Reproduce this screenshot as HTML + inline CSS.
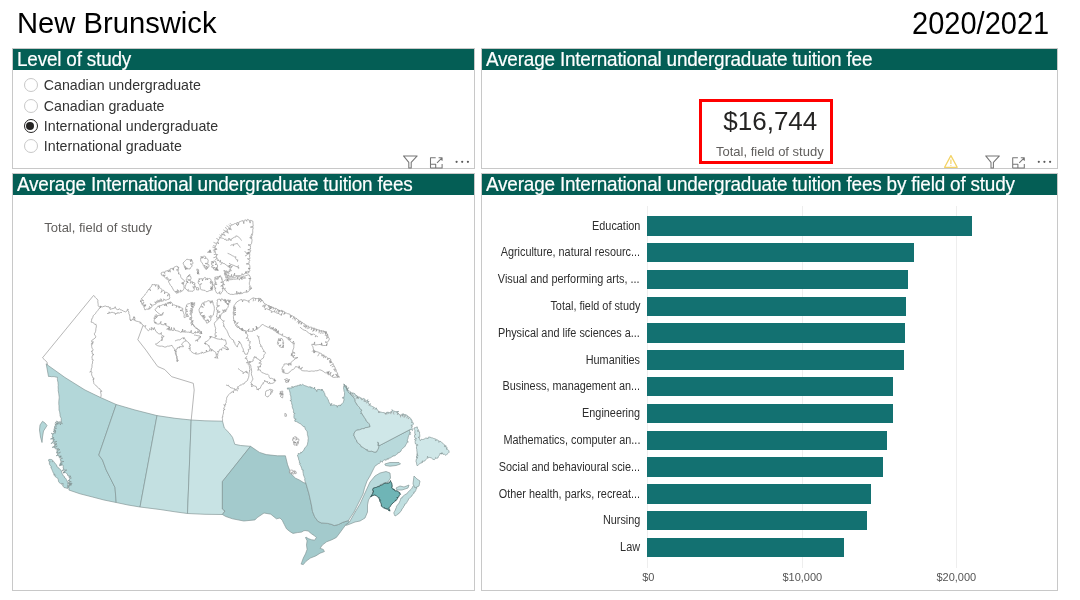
<!DOCTYPE html>
<html><head><meta charset="utf-8">
<style>
*{margin:0;padding:0;box-sizing:border-box}
html,body{width:1080px;height:600px;overflow:hidden;background:#fff}
#root{position:absolute;left:0;top:0;width:1080px;height:600px;will-change:transform}
body{position:relative;-webkit-font-smoothing:antialiased;font-family:"Liberation Sans",Arial,sans-serif;color:#252423}
.abs{position:absolute;white-space:nowrap}
.panel{position:absolute;border:1px solid #c8c8c8;background:#fff}
.hdr{position:absolute;left:0;top:0;right:0;height:21px;background:#045e55;color:#fff;font-size:20.5px;letter-spacing:-0.216px;line-height:21px;padding-left:3.6px;white-space:nowrap;overflow:hidden}
.hdr span{display:inline-block;position:relative;top:-0.6px;transform:scaleX(0.924);transform-origin:0 50%;-webkit-text-stroke:0.2px #fff}
.radio{position:absolute;left:23.5px;width:14px;height:14px;border-radius:50%;border:1px solid #c8c8c8;background:#fff}
.radio.sel{border:1.5px solid #252423}
.radio.sel:after{content:"";position:absolute;left:1.5px;top:1.5px;width:8px;height:8px;border-radius:50%;background:#252423}
.rl{position:absolute;left:43.8px;font-size:14.2px;line-height:14px;color:#333}
.lbl{position:absolute;right:440px;font-size:12px;line-height:11px;transform:scaleX(0.905);transform-origin:100% 50%;color:#2e2e2e;text-align:right;white-space:nowrap}
.bar{position:absolute;left:647.2px;height:19.4px;background:#137171}
.ax{position:absolute;font-size:11px;line-height:11px;color:#555;white-space:nowrap}
.grid{position:absolute;top:205.5px;width:1px;height:362px;background:#eeeeee}
</style></head><body><div id="root">

<div class="abs" style="left:17px;top:8.3px;font-size:30.2px;line-height:30.2px;color:#000;transform:scaleX(0.967);transform-origin:0 50%">New Brunswick</div>
<div class="abs" style="right:31px;top:8.2px;font-size:30.5px;line-height:30.5px;color:#000;transform:scaleX(0.951);transform-origin:100% 50%">2020/2021</div>

<!-- top-left: level of study -->
<div class="panel" style="left:12px;top:48px;width:463px;height:121px">
  <div class="hdr"><span>Level of study</span></div>
</div>
<div class="radio" style="top:78px"></div>
<div class="rl" style="top:78px">Canadian undergraduate</div>
<div class="radio" style="top:98.5px"></div>
<div class="rl" style="top:98.5px">Canadian graduate</div>
<div class="radio sel" style="top:119px"></div>
<div class="rl" style="top:119px">International undergraduate</div>
<div class="radio" style="top:139.3px"></div>
<div class="rl" style="top:139.3px">International graduate</div>

<!-- top-right KPI -->
<div class="panel" style="left:481px;top:48px;width:577px;height:121px">
  <div class="hdr"><span>Average International undergraduate tuition fee</span></div>
</div>
<div class="abs" style="left:699px;top:99px;width:134px;height:65px;border:3px solid #ff0000"></div>
<div class="abs" style="left:723.3px;top:108px;font-size:26px;line-height:26px;color:#252423">$16,744</div>
<div class="abs" style="left:716px;top:144.5px;font-size:13px;line-height:13px;color:#605e5c">Total, field of study</div>

<!-- bottom-left map -->
<div class="panel" style="left:12px;top:173px;width:463px;height:418px">
  <div class="hdr"><span>Average International undergraduate tuition fees</span></div>
</div>
<div class="abs" style="left:44.3px;top:221px;font-size:13px;line-height:13px;color:#605e5c">Total, field of study</div>

<!-- bottom-right bar chart -->
<div class="panel" style="left:481px;top:173px;width:577px;height:418px">
  <div class="hdr"><span>Average International undergraduate tuition fees by field of study</span></div>
</div>

<svg class="abs" style="left:0;top:150px" width="1080" height="22" viewBox="0 150 1080 22">
 <g id="ic1" fill="none" stroke="#767676" stroke-width="1.05" stroke-linejoin="round">
  <path d="M403.5,155.9 L417.2,155.9 L411.2,162.4 L411.2,168 L408.8,168 L408.8,162.4 Z"/>
  <path d="M430.5,168 V157.8 H435.7 M442.1,164 V168 H430.5 M430.5,164.3 H435.7 V168 M437,162.9 L442,157.9 M438.6,157.8 H442.1 V160.8"/>
 </g>
 <g fill="#5a5a5a">
  <circle cx="456.6" cy="161.8" r="1.1"/><circle cx="462.2" cy="161.8" r="1.1"/><circle cx="467.9" cy="161.8" r="1.1"/>
 </g>
 <g transform="translate(582.2,0)">
 <g fill="none" stroke="#767676" stroke-width="1.05" stroke-linejoin="round">
  <path d="M403.5,155.9 L417.2,155.9 L411.2,162.4 L411.2,168 L408.8,168 L408.8,162.4 Z"/>
  <path d="M430.5,168 V157.8 H435.7 M442.1,164 V168 H430.5 M430.5,164.3 H435.7 V168 M437,162.9 L442,157.9 M438.6,157.8 H442.1 V160.8"/>
 </g>
 <g fill="#5a5a5a">
  <circle cx="456.6" cy="161.8" r="1.1"/><circle cx="462.2" cy="161.8" r="1.1"/><circle cx="467.9" cy="161.8" r="1.1"/>
 </g>
 </g>
 <g fill="none" stroke="#f3d366" stroke-width="1.3" stroke-linejoin="round">
  <path d="M950.9,155.6 L957.2,167.3 L944.6,167.3 Z"/>
  <path d="M950.9,159.6 V164" stroke-width="1.2"/>
 </g>
 <circle cx="950.9" cy="165.5" r="0.6" fill="#f3d366"/>
</svg>

<svg class="abs" style="left:0;top:0" width="1080" height="600" viewBox="0 0 1080 600">
<g stroke="#7f9192" stroke-width="0.65" stroke-linejoin="round">
<path fill="#b3d7d9" d="M46.2,363.8 L47.5,365.0 L65.0,377.5 L85.0,390.0 L100.5,397.5 L116.2,404.5 L98.8,455.0 L102.5,460.0 L106.2,470.0 L110.0,477.5 L115.0,487.5 L116.2,502.5 L104.0,500.0 L92.5,497.0 L80.0,493.8 L68.8,490.0 L68.8,490.0 L69.2,489.0 L69.0,487.9 L66.8,487.2 L69.3,486.9 L69.0,486.9 L67.1,485.3 L69.2,485.8 L68.8,485.8 L71.5,484.9 L69.0,484.7 L69.2,485.2 L72.2,483.5 L68.9,484.1 L68.9,484.2 L71.2,483.8 L68.6,483.2 L69.6,483.0 L67.8,483.4 L69.3,481.9 L69.2,482.0 L71.4,481.9 L69.0,480.9 L69.6,480.9 L67.9,481.0 L69.3,479.8 L69.4,479.8 L69.5,478.8 L71.4,478.0 L69.2,477.7 L69.4,477.7 L68.7,476.8 L71.0,476.3 L68.4,475.8 L68.0,475.9 L67.5,475.0 L67.4,473.9 L66.3,473.3 L65.5,472.6 L63.1,472.7 L65.0,471.6 L65.2,471.6 L63.1,473.1 L64.7,470.6 L64.6,470.8 L66.9,470.1 L64.1,469.8 L64.1,469.9 L62.0,471.0 L63.6,468.9 L64.0,468.8 L63.0,468.1 L63.3,466.9 L63.2,465.8 L62.7,464.9 L59.3,465.7 L62.3,463.9 L62.1,464.0 L59.8,464.7 L61.7,463.0 L61.5,463.1 L59.7,464.4 L61.1,462.1 L60.9,462.2 L63.9,461.5 L60.5,461.2 L61.1,461.0 L60.4,460.1 L60.3,459.0 L62.5,458.3 L59.9,457.9 L59.6,458.1 L60.9,456.1 L59.2,457.1 L58.9,457.2 L61.4,456.2 L58.5,456.2 L58.5,456.2 L58.4,455.2 L56.2,455.8 L57.9,454.2 L57.7,454.3 L60.5,452.2 L57.2,453.3 L58.0,452.9 L56.2,452.8 L57.6,451.9 L57.1,452.1 L56.9,451.0 L60.0,449.5 L56.5,450.0 L56.7,449.9 L58.6,448.6 L56.2,448.9 L55.9,449.0 L54.9,448.3 L57.3,445.9 L54.4,447.3 L55.1,447.0 L52.2,447.4 L54.8,445.9 L54.5,446.1 L56.6,444.3 L54.2,445.0 L54.9,444.9 L56.8,443.6 L54.6,443.8 L54.1,444.0 L53.8,443.0 L56.8,441.4 L53.5,442.0 L53.6,442.0 L51.1,443.7 L53.4,441.0 L53.0,441.1 L54.7,439.6 L52.8,440.1 L53.2,440.0 L53.6,438.9 L50.5,439.0 L53.3,437.8 L52.5,438.1 L54.1,437.9 L52.2,437.0 L52.0,436.9 L52.6,436.0 L52.7,434.9 L51.4,433.2 L53.0,433.9 L53.5,434.1 L53.6,433.0 L55.8,432.9 L53.9,432.0 L53.7,432.0 L53.5,430.9 L55.9,431.7 L53.7,429.8 L53.8,429.9 L55.9,431.1 L54.0,428.8 L54.0,428.9 L56.5,428.4 L54.3,427.8 L54.9,428.0 L54.5,426.6 L55.0,425.6 L56.3,426.7 L55.7,424.8 L56.1,425.1 L54.8,424.0 L56.8,424.3 L57.1,424.7 L55.3,422.2 L57.9,423.9 L58.1,424.2 L56.6,423.0 L58.9,423.4 L58.5,423.1 L56.3,421.2 L59.2,422.3 L59.1,422.2 L60.6,425.0 L59.8,421.4 L60.3,421.9 L62.3,424.1 L61.0,421.1 L61.2,421.4 L61.2,420.0 L61.2,420.0 L61.3,418.5 L60.6,417.1 L60.1,415.8 L60.0,414.3 L59.8,412.8 L59.5,411.4 L59.0,410.0 L59.0,408.6 L59.0,407.2 L59.0,405.8 L58.8,404.5 L58.8,403.1 L58.8,401.7 L58.9,400.3 L59.1,398.9 L59.2,397.5 L59.1,396.2 L58.9,394.8 L58.7,393.4 L58.5,392.0 L58.2,390.7 L58.3,389.3 L58.2,387.9 L58.1,386.6 L58.3,385.2 L58.1,383.8 L58.0,382.4 L57.7,381.1 L57.4,379.8 L57.4,378.4 L57.5,377.3 L56.0,377.1 L54.5,376.7 L53.0,376.6 L51.5,376.7 L50.0,376.4 L48.5,376.5 Z"/>
<path fill="#b3d7d9" d="M48.8,459.5 L50.1,459.4 L51.5,459.5 L52.7,460.3 L52.2,461.8 L53.4,461.2 L53.7,461.4 L54.5,462.6 L55.3,463.8 L56.4,464.7 L56.8,466.0 L57.4,467.2 L58.7,467.8 L59.4,469.0 L60.6,469.7 L61.3,470.8 L61.7,472.3 L62.2,473.7 L62.9,474.9 L63.5,476.2 L64.9,477.0 L64.3,477.5 L65.4,478.0 L65.6,478.3 L66.4,479.6 L67.1,480.9 L67.6,482.3 L67.8,483.8 L68.1,484.8 L67.5,486.1 L67.7,487.6 L67.7,488.5 L65.9,487.9 L64.0,487.5 L63.2,486.4 L63.5,485.8 L62.5,485.5 L62.7,485.0 L63.4,483.7 L62.1,484.1 L61.5,484.3 L62.4,483.5 L60.8,483.4 L60.3,483.5 L59.2,482.5 L58.5,481.4 L58.3,479.8 L57.8,478.3 L56.4,477.5 L55.2,476.6 L55.8,475.8 L54.6,475.7 L54.3,475.5 L55.0,474.1 L53.7,474.7 L54.1,474.0 L53.3,472.9 L52.8,471.7 L52.3,470.5 L51.8,469.3 L51.2,468.1 L50.8,466.9 L51.5,466.7 L50.5,465.9 L50.3,465.5 L49.4,464.1 L49.3,462.5 L50.3,461.9 L49.1,461.5 L48.6,461.1 L48.8,459.5 Z"/>
<path fill="#b3d7d9" d="M42.5,421.3 L45.0,423.0 L47.0,425.5 L45.5,428.0 L43.5,431.0 L42.5,437.0 L42.0,442.5 L40.5,437.0 L39.5,430.0 L40.0,425.0 Z"/>
<path fill="#b7d9db" d="M116.2,404.5 L135.0,410.0 L157.0,415.6 L140.0,507.0 L140.0,507.0 L128.0,505.0 L116.2,502.5 L115.0,487.5 L110.0,477.5 L106.2,470.0 L102.5,460.0 L98.8,455.0 Z"/>
<path fill="#c3e0e1" d="M157.0,415.6 L175.0,418.3 L191.2,420.0 L190.0,452.5 L187.5,513.5 L187.5,513.5 L175.0,511.8 L160.0,509.5 L140.0,507.0 Z"/>
<path fill="#c8e3e4" d="M191.2,420.0 L205.0,420.8 L222.5,421.2 L224.3,428.0 L229.0,432.7 L232.5,437.3 L234.8,444.3 L240.7,445.5 L250.5,446.3 L222.4,481.6 L222.4,509.0 L225.0,511.0 L222.4,514.5 L205.0,514.3 L187.5,513.5 Z"/>
<path fill="#a3cacc" d="M250.5,446.3 L259.5,452.4 L266.2,454.6 L277.5,455.8 L285.4,455.8 L287.6,464.8 L291.0,473.8 L295.5,478.2 L299.4,480.0 L303.9,482.8 L305.8,483.0 L309.0,494.0 L311.4,505.0 L312.5,511.5 L314.7,516.9 L317.9,521.3 L321.2,522.9 L327.7,523.4 L332.0,524.5 L334.2,525.6 L338.5,524.5 L342.8,522.3 L346.1,521.3 L348.5,520.5 L349.3,522.3 L345.6,525.0 L342.8,528.8 L339.6,533.2 L336.3,537.5 L332.0,539.7 L326.6,541.8 L322.3,545.1 L320.1,548.3 L323.3,549.4 L324.4,551.6 L320.1,553.2 L315.8,555.9 L310.3,558.1 L306.0,561.3 L303.3,564.6 L301.1,564.1 L301.7,562.4 L303.3,558.1 L305.5,553.8 L307.1,549.4 L306.5,545.1 L307.1,540.8 L305.5,537.5 L306.0,537.0 L308.2,538.6 L311.4,539.7 L314.7,540.2 L316.3,537.5 L314.7,535.9 L311.4,533.7 L308.2,531.0 L305.0,530.5 L303.3,531.0 L301.7,532.1 L297.3,532.6 L293.0,533.4 L289.8,531.5 L286.5,528.8 L284.3,524.5 L282.2,520.2 L280.0,518.0 L276.4,518.8 L270.8,514.2 L264.0,513.0 L257.2,517.6 L255.0,519.9 L243.8,521.0 L232.5,518.8 L225.8,516.5 L222.4,514.5 L225.0,511.0 L222.4,509.0 L222.4,481.6 Z"/>
<path fill="#b8d9db" d="M287.5,388.0 L289.1,388.0 L290.6,388.0 L292.2,387.9 L291.9,386.2 L293.2,387.7 L293.5,386.8 L295.0,386.4 L296.2,385.9 L297.1,386.5 L297.3,385.6 L297.4,385.4 L298.8,385.4 L300.1,385.3 L299.9,384.5 L301.2,385.0 L301.4,385.2 L302.5,384.3 L303.6,385.0 L304.8,385.7 L306.1,386.0 L307.3,386.5 L308.5,387.0 L309.8,386.8 L311.3,387.0 L310.9,388.1 L312.2,387.5 L312.4,387.7 L313.5,388.5 L314.7,387.1 L314.5,389.0 L314.8,388.9 L316.0,389.7 L316.8,391.6 L317.1,389.7 L317.5,389.5 L319.0,389.4 L320.5,389.8 L322.0,389.9 L322.8,389.7 L321.1,389.8 L323.1,390.7 L323.6,391.1 L324.1,392.5 L324.9,393.9 L324.9,395.6 L326.1,396.4 L327.0,397.4 L327.5,398.7 L328.3,399.9 L328.7,401.4 L329.4,402.9 L330.3,404.3 L332.0,403.5 L330.7,405.3 L330.2,405.2 L332.1,405.2 L334.1,404.8 L335.4,405.4 L336.7,405.5 L337.3,407.3 L337.8,405.6 L338.1,405.4 L339.5,405.7 L340.0,404.8 L340.5,405.8 L340.4,405.8 L341.0,404.6 L342.2,403.7 L343.1,402.7 L343.5,401.4 L344.0,400.0 L344.0,398.5 L342.2,397.8 L344.1,397.4 L343.8,397.0 L344.4,395.5 L344.5,394.0 L344.6,392.5 L344.0,391.2 L343.9,389.8 L343.5,388.5 L343.7,387.1 L344.0,385.7 L343.8,384.3 L343.8,384.3 L345.0,385.2 L345.8,386.3 L346.7,386.1 L346.4,387.2 L346.0,387.9 L346.7,387.7 L346.6,388.8 L347.0,388.8 L347.3,390.3 L347.9,391.5 L349.0,392.5 L350.1,393.7 L351.0,395.0 L352.5,395.8 L353.4,397.0 L354.3,398.4 L355.1,399.8 L355.2,401.5 L355.9,402.9 L356.8,404.1 L357.4,405.4 L358.5,406.4 L359.5,407.5 L360.2,408.7 L361.0,409.8 L362.0,410.1 L361.4,410.8 L361.1,411.2 L361.4,412.5 L360.8,413.4 L361.8,413.6 L362.2,413.7 L362.6,415.0 L363.6,416.0 L364.2,417.5 L365.3,418.5 L365.9,419.9 L366.5,421.3 L367.8,422.3 L368.9,423.4 L369.6,424.8 L370.1,426.7 L368.6,427.2 L367.0,427.5 L365.4,427.7 L364.0,428.7 L362.5,428.6 L361.0,429.2 L359.6,429.8 L358.1,430.0 L356.8,430.2 L355.2,431.4 L354.2,433.0 L354.0,434.6 L353.6,435.3 L354.2,435.6 L354.2,436.0 L355.0,437.5 L355.3,438.8 L356.3,439.7 L356.8,441.1 L357.3,442.5 L358.4,443.3 L359.6,444.1 L360.5,445.1 L361.0,446.5 L362.4,447.1 L363.7,447.9 L364.9,448.8 L366.2,449.6 L367.4,449.5 L367.1,450.2 L367.0,450.5 L368.5,451.0 L370.0,451.4 L371.5,451.1 L373.0,451.7 L374.5,452.1 L376.4,452.0 L377.1,450.7 L377.8,449.4 L378.6,448.0 L378.7,446.4 L377.9,445.0 L378.1,443.4 L377.7,441.9 L378.4,443.1 L378.6,444.5 L377.9,445.3 L379.0,445.5 L379.0,445.8 L410.5,429.3 L410.5,429.3 L409.7,430.5 L409.7,431.9 L410.8,433.1 L409.4,432.9 L409.5,433.2 L410.5,434.4 L409.2,434.3 L409.1,434.5 L408.6,435.8 L408.2,437.1 L408.0,438.5 L407.4,439.7 L407.2,441.1 L408.4,441.9 L406.9,442.1 L407.1,442.5 L406.5,443.7 L405.8,444.8 L405.2,446.0 L404.4,447.1 L403.2,447.8 L402.4,448.8 L401.4,449.7 L401.0,451.1 L400.0,452.0 L398.8,452.7 L398.1,452.4 L397.8,453.4 L397.7,453.7 L396.4,454.5 L395.4,455.4 L394.0,456.0 L393.2,455.7 L393.0,456.5 L392.5,456.4 L391.3,457.3 L390.0,458.1 L388.6,458.2 L388.0,459.5 L387.6,458.6 L387.5,459.1 L386.2,459.3 L385.8,460.5 L385.2,459.7 L384.9,459.7 L383.7,460.3 L382.5,461.0 L382.4,462.2 L381.6,461.6 L381.2,461.4 L380.5,460.9 L380.3,462.1 L380.4,462.5 L379.4,463.4 L378.0,463.8 L377.1,464.7 L376.0,465.4 L374.9,466.2 L374.3,467.5 L373.7,468.7 L373.0,470.0 L370.0,476.0 L367.0,481.0 L364.5,488.0 L363.0,494.0 L360.0,500.0 L357.0,506.0 L354.0,512.0 L350.0,518.0 L348.5,520.5 L346.1,521.3 L342.8,522.3 L338.5,524.5 L334.2,525.6 L332.0,524.5 L327.7,523.4 L321.2,522.9 L317.9,521.3 L314.7,516.9 L312.5,511.5 L311.4,505.0 L309.0,494.0 L305.8,483.0 L305.8,483.0 L305.2,481.6 L304.8,480.2 L304.7,478.7 L305.2,478.1 L304.5,477.6 L304.3,477.4 L304.0,476.1 L303.4,475.0 L303.3,473.6 L303.0,472.4 L302.9,471.0 L303.3,470.0 L302.5,470.0 L302.0,469.9 L301.7,468.4 L301.2,466.9 L300.5,465.5 L299.6,464.2 L300.4,463.4 L299.2,463.1 L299.4,462.6 L299.4,461.0 L298.6,459.6 L298.5,458.1 L297.9,456.7 L297.4,455.1 L298.5,454.3 L298.2,453.5 L299.3,453.5 L299.6,453.7 L300.8,453.2 L300.7,452.2 L301.8,452.6 L301.8,452.3 L302.7,451.2 L303.7,450.5 L304.2,449.1 L305.0,447.8 L306.0,446.7 L306.9,445.5 L307.5,444.2 L307.7,442.8 L308.0,441.4 L308.0,440.0 L308.3,438.7 L308.1,437.3 L307.9,436.0 L307.4,434.6 L307.4,433.3 L307.2,431.7 L306.3,430.4 L305.3,429.2 L304.9,427.7 L304.7,426.6 L304.0,427.0 L303.7,426.9 L302.7,425.9 L301.7,424.8 L300.6,423.9 L299.3,423.3 L297.9,422.4 L296.4,421.6 L294.9,421.3 L294.8,419.9 L296.2,419.2 L294.7,418.8 L294.3,418.6 L293.9,417.2 L294.0,415.8 L294.0,414.4 L295.0,413.4 L293.9,413.3 L293.7,413.0 L293.4,411.8 L293.5,410.4 L293.1,409.1 L292.5,407.9 L292.2,406.6 L292.3,405.2 L291.7,404.0 L291.6,402.6 L291.4,401.3 L289.9,400.5 L291.2,400.2 L291.3,399.9 L290.9,398.7 L290.9,397.3 L290.8,395.9 L290.2,394.7 L290.2,393.3 L289.9,392.0 L289.5,390.7 L289.0,389.5 L288.2,388.5 L287.7,389.3 L287.2,388.1 L287.5,388.0 Z"/>
<path fill="#b8d9db" d="M349.3,522.3 L354.0,514.0 L360.0,504.0 L365.0,493.0 L370.0,482.0 L375.0,476.0 L380.0,473.0 L386.0,471.5 L390.0,473.0 L390.5,478.0 L388.0,482.0 L384.0,483.0 L380.0,485.0 L376.0,488.0 L373.5,488.0 L372.8,489.5 L372.8,493.2 L370.5,496.7 L368.5,500.0 L367.5,505.0 L367.5,512.0 L365.0,518.0 L360.0,521.0 L355.0,522.0 L350.0,524.0 L346.5,525.3 L345.6,525.0 Z"/>
<path fill="#cfe7e8" d="M343.8,384.3 L344.8,385.2 L344.1,386.5 L345.5,386.1 L345.5,386.4 L345.9,387.7 L346.7,388.8 L348.6,387.7 L347.4,389.6 L348.0,389.4 L346.8,390.2 L348.7,390.3 L348.8,390.5 L349.7,391.4 L350.8,392.0 L350.4,393.9 L351.7,392.6 L352.2,392.6 L352.1,394.1 L353.1,393.1 L353.5,393.1 L354.9,393.7 L355.6,395.3 L357.1,395.7 L357.4,398.2 L358.0,396.3 L358.0,397.0 L357.6,398.1 L359.0,397.4 L359.4,397.1 L360.6,397.7 L361.8,398.4 L361.6,399.8 L362.8,398.8 L363.2,398.5 L364.5,398.8 L365.4,400.1 L364.2,401.4 L366.2,400.9 L366.4,401.1 L367.8,399.6 L367.2,401.9 L367.3,402.2 L369.1,401.1 L368.1,402.9 L368.3,403.2 L369.1,404.4 L370.4,403.6 L369.9,405.2 L369.8,405.7 L371.5,406.0 L372.8,406.7 L374.2,407.4 L375.4,408.3 L376.6,408.0 L376.3,409.0 L376.8,408.9 L377.6,410.4 L378.7,411.1 L379.0,412.8 L379.7,411.6 L379.8,412.1 L381.2,412.2 L382.5,412.5 L383.9,412.6 L384.9,413.0 L386.0,413.9 L385.9,412.7 L386.3,412.4 L387.3,413.1 L387.4,412.1 L387.9,412.2 L389.5,412.6 L391.0,411.7 L392.4,411.2 L392.0,409.6 L393.5,411.1 L394.0,411.2 L395.5,411.5 L396.6,411.6 L398.7,411.4 L397.3,412.5 L397.8,412.7 L397.5,414.2 L398.5,413.6 L398.6,414.1 L400.0,414.9 L401.5,415.4 L402.1,413.9 L402.6,415.4 L403.0,415.1 L403.1,413.5 L404.1,415.1 L404.5,414.5 L406.1,414.8 L407.2,415.6 L408.3,416.4 L409.2,417.5 L410.3,418.1 L411.4,419.0 L410.7,419.8 L411.9,420.0 L411.9,420.3 L412.3,421.6 L411.2,422.2 L412.8,422.6 L413.2,422.7 L413.4,424.0 L412.5,425.3 L410.9,425.0 L412.2,426.4 L412.3,426.9 L411.4,426.9 L412.0,428.0 L412.2,428.8 L412.5,430.5 L411.2,429.4 L410.5,429.3 L410.5,429.3 L379.0,445.8 L379.0,445.5 L377.9,445.3 L378.6,444.5 L378.4,443.1 L377.7,441.9 L378.1,443.4 L377.9,445.0 L378.7,446.4 L378.6,448.0 L377.8,449.4 L377.1,450.7 L376.4,452.0 L374.5,452.1 L373.0,451.7 L371.5,451.1 L370.0,451.4 L368.5,451.0 L367.0,450.5 L367.1,450.2 L367.4,449.5 L366.2,449.6 L364.9,448.8 L363.7,447.9 L362.4,447.1 L361.0,446.5 L360.5,445.1 L359.6,444.1 L358.4,443.3 L357.3,442.5 L356.8,441.1 L356.3,439.7 L355.3,438.8 L355.0,437.5 L354.2,436.0 L354.2,435.6 L353.6,435.3 L354.0,434.6 L354.2,433.0 L355.2,431.4 L356.8,430.2 L358.1,430.0 L359.6,429.8 L361.0,429.2 L362.5,428.6 L364.0,428.7 L365.4,427.7 L367.0,427.5 L368.6,427.2 L370.1,426.7 L369.6,424.8 L368.9,423.4 L367.8,422.3 L366.5,421.3 L365.9,419.9 L365.3,418.5 L364.2,417.5 L363.6,416.0 L362.6,415.0 L362.2,413.7 L361.8,413.6 L360.8,413.4 L361.4,412.5 L361.1,411.2 L361.4,410.8 L362.0,410.1 L361.0,409.8 L360.2,408.7 L359.5,407.5 L358.5,406.4 L357.4,405.4 L356.8,404.1 L355.9,402.9 L355.2,401.5 L355.1,399.8 L354.3,398.4 L353.4,397.0 L352.5,395.8 L351.0,395.0 L350.1,393.7 L349.0,392.5 L347.9,391.5 L347.3,390.3 L347.0,388.8 L346.6,388.8 L346.7,387.7 L346.0,387.9 L346.4,387.2 L346.7,386.1 L345.8,386.3 L345.0,385.2 L343.8,384.3 Z"/>
<path fill="#cfe7e8" d="M414.0,428.0 L415.5,427.5 L417.3,426.9 L417.4,428.3 L418.2,429.4 L418.8,430.6 L417.1,430.9 L419.2,431.6 L419.6,431.9 L419.5,433.3 L419.7,434.6 L419.8,436.0 L419.7,437.3 L418.1,437.2 L419.8,438.4 L419.4,438.7 L420.0,439.8 L420.3,440.7 L421.0,439.6 L421.3,439.4 L422.7,439.5 L424.1,439.2 L425.4,438.2 L427.0,438.1 L427.9,439.0 L428.1,437.8 L428.4,437.1 L430.0,437.1 L431.2,437.7 L432.5,437.9 L433.7,438.5 L435.1,438.9 L436.3,439.3 L435.4,440.6 L437.3,439.8 L437.4,440.1 L438.7,440.7 L438.9,442.4 L439.6,441.2 L439.9,441.2 L441.1,441.7 L442.1,442.9 L443.4,443.9 L444.7,444.9 L444.4,446.7 L445.6,445.6 L446.2,445.9 L445.2,446.8 L446.7,446.9 L446.8,447.1 L447.2,448.4 L446.0,448.9 L447.7,449.4 L447.8,449.6 L448.8,450.6 L449.2,452.2 L448.2,453.2 L447.1,454.1 L445.9,455.4 L444.6,454.3 L442.9,454.3 L442.2,452.7 L441.9,454.0 L441.3,454.1 L441.8,453.0 L440.3,453.7 L440.4,453.1 L439.8,454.4 L439.2,455.6 L438.3,456.7 L438.0,457.9 L436.5,458.3 L435.6,457.5 L435.5,458.7 L435.1,458.9 L434.2,459.7 L432.8,459.2 L431.6,458.1 L429.7,457.4 L428.3,457.9 L427.5,456.3 L427.3,458.4 L426.9,458.5 L425.8,459.7 L424.9,460.9 L423.4,461.3 L422.0,461.0 L422.5,461.9 L422.5,462.5 L422.0,461.9 L421.5,463.1 L421.0,462.9 L419.8,463.6 L418.3,464.8 L417.3,465.9 L416.7,464.5 L416.6,463.0 L416.0,461.5 L416.2,460.0 L416.5,458.7 L417.8,457.8 L416.6,457.6 L416.1,457.3 L417.4,457.3 L416.2,456.2 L416.5,456.0 L418.2,455.7 L416.6,454.9 L416.7,454.7 L418.0,454.1 L416.8,453.6 L417.1,453.4 L417.1,452.0 L416.8,450.7 L416.8,449.3 L416.4,448.0 L416.6,446.6 L416.4,445.2 L418.1,445.1 L416.2,444.2 L415.5,444.0 L415.2,442.7 L415.2,441.3 L416.0,440.4 L415.0,440.3 L414.6,440.0 L415.1,438.7 L416.6,438.8 L415.0,437.6 L414.6,437.4 L414.5,436.0 L414.8,434.6 L415.8,434.4 L414.7,433.5 L414.7,433.3 L414.8,432.0 L414.9,430.6 L414.1,429.3 L414.0,428.0 Z"/>
<path fill="#c0dfe0" d="M395.0,516.0 L396.4,515.3 L397.7,514.5 L398.0,513.6 L398.6,513.8 L398.7,513.3 L400.0,512.5 L400.8,511.2 L401.8,510.0 L401.5,509.5 L402.4,509.1 L402.4,508.6 L403.4,507.4 L403.9,505.9 L405.0,505.0 L404.6,504.2 L405.6,504.0 L405.8,503.8 L406.7,502.6 L407.4,501.4 L408.2,500.1 L408.7,498.9 L409.6,497.9 L410.7,497.2 L411.6,496.2 L412.2,495.0 L413.2,494.2 L414.1,493.0 L413.8,492.0 L414.7,492.1 L415.0,491.9 L415.7,490.6 L416.2,489.2 L417.0,488.0 L416.2,487.3 L417.2,486.9 L417.5,486.7 L417.6,485.3 L417.1,484.8 L417.8,484.2 L417.9,484.1 L415.9,482.4 L415.3,483.7 L414.7,484.9 L413.5,485.7 L412.6,486.7 L412.1,488.1 L411.2,489.2 L410.1,490.1 L409.1,491.1 L408.1,492.1 L407.2,493.2 L407.2,493.7 L406.4,493.9 L406.1,494.1 L404.7,494.9 L403.4,495.8 L402.4,497.1 L402.3,497.8 L401.5,497.8 L401.0,498.0 L400.5,499.3 L400.2,500.6 L399.6,501.8 L399.1,503.1 L398.2,504.1 L397.4,505.2 L396.5,506.3 L396.3,507.7 L395.7,508.8 L395.3,510.1 L394.4,511.6 L393.8,512.9 L394.3,514.5 L395.0,516.0 Z"/>
<path fill="#c0dfe0" d="M414.0,476.0 L417.0,479.0 L420.0,481.0 L419.0,486.0 L415.0,488.0 L413.0,484.0 Z"/>
<path fill="#c0dfe0" d="M396.0,488.0 L400.0,486.0 L404.0,487.0 L409.0,485.0 L408.0,488.0 L402.0,490.0 L397.0,490.0 Z"/>
<path fill="#b8d9db" d="M384.8,464.0 L390.0,462.5 L399.0,462.5 L400.5,464.0 L396.0,465.5 L390.0,466.2 L385.5,465.5 Z"/>
</g>
<path fill="#6fb5b6" stroke="#2f4f4f" stroke-width="0.9" stroke-linejoin="round" d="M373.5,488.0 L374.5,487.8 L375.5,487.5 L376.5,487.3 L377.4,486.8 L378.4,486.6 L379.3,486.7 L379.4,486.1 L379.4,486.2 L380.1,485.4 L381.1,485.2 L382.2,484.9 L383.2,484.1 L384.2,483.5 L385.4,483.1 L386.1,483.6 L386.5,482.9 L386.7,483.2 L388.0,483.1 L389.4,482.8 L390.0,481.6 L390.5,480.6 L390.8,481.7 L391.5,482.8 L391.9,483.8 L392.0,484.8 L392.2,485.9 L392.0,487.0 L391.6,487.3 L392.1,488.1 L392.2,488.0 L393.2,488.7 L393.0,489.5 L394.1,489.4 L394.2,489.4 L394.1,489.9 L395.1,490.0 L395.0,490.3 L395.3,491.1 L395.9,491.0 L396.1,490.8 L397.1,491.0 L398.0,491.5 L398.8,492.1 L399.7,492.5 L399.4,493.4 L400.2,493.5 L400.6,494.1 L399.8,494.9 L399.1,495.7 L398.7,496.7 L398.1,497.6 L396.9,497.5 L397.3,498.4 L397.5,498.5 L396.9,499.4 L396.3,500.3 L395.3,500.3 L395.5,501.1 L395.4,500.9 L394.6,501.6 L393.8,502.3 L392.9,502.9 L392.3,503.8 L391.4,504.4 L391.0,505.5 L390.2,506.3 L389.4,507.1 L388.9,508.3 L389.6,509.2 L388.8,510.2 L389.8,510.3 L389.7,510.3 L390.2,511.0 L388.9,510.5 L387.8,509.6 L387.6,508.9 L386.8,509.1 L386.9,508.9 L385.8,508.7 L384.6,508.4 L384.6,507.6 L383.8,507.7 L383.5,507.8 L382.5,507.0 L381.3,506.1 L381.4,504.9 L381.1,503.7 L380.7,502.6 L380.0,501.6 L380.7,500.9 L379.5,500.7 L379.8,500.5 L380.2,499.6 L379.3,499.5 L379.4,499.5 L379.0,498.4 L379.4,497.8 L378.4,497.5 L378.4,497.3 L377.3,496.6 L376.4,495.8 L374.9,495.0 L373.9,495.2 L372.9,495.5 L371.9,495.9 L370.6,496.8 L371.2,495.9 L371.8,496.2 L371.8,495.0 L371.9,495.2 L372.3,494.2 L372.9,493.2 L373.1,492.0 L373.8,491.1 L373.1,490.9 L373.0,490.8 L372.7,489.5 L373.5,488.0 Z"/>
<g fill="#fff" stroke="#909090" stroke-width="0.65" stroke-linejoin="round">
<path d="M152.0,284.5 L153.4,284.7 L154.8,284.4 L155.6,286.4 L155.9,284.5 L156.2,284.9 L157.6,285.1 L158.8,285.1 L157.7,287.2 L159.3,286.1 L159.3,286.5 L157.9,289.3 L159.8,287.5 L160.0,287.8 L161.1,288.9 L162.2,289.7 L161.0,292.5 L163.1,290.3 L163.6,290.2 L164.5,291.6 L164.5,293.9 L165.4,292.1 L165.8,292.1 L167.3,292.7 L168.6,293.5 L167.2,296.1 L169.4,294.2 L169.7,295.0 L169.5,296.4 L169.9,297.8 L169.2,299.1 L167.7,299.4 L166.4,300.0 L165.0,300.2 L163.7,298.8 L163.9,300.6 L163.6,300.7 L162.3,301.2 L160.8,298.7 L161.3,301.5 L161.0,301.6 L159.6,299.8 L159.9,301.9 L159.5,301.8 L157.7,300.0 L158.5,302.1 L158.1,302.2 L156.5,301.1 L157.2,302.8 L156.8,303.0 L154.8,301.9 L155.9,303.6 L155.8,304.1 L154.3,304.6 L152.8,305.3 L150.0,303.8 L152.0,306.1 L152.1,306.8 L150.7,307.7 L149.5,306.5 L150.0,308.5 L150.0,309.1 L148.7,308.1 L148.9,309.2 L148.3,309.3 L146.6,309.1 L144.9,310.0 L144.5,308.6 L143.9,307.2 L145.7,305.7 L143.4,306.2 L143.2,305.9 L146.1,305.0 L142.7,304.9 L142.1,304.8 L144.0,302.4 L141.5,303.9 L141.8,303.3 L141.1,302.0 L140.0,301.0 L141.5,301.8 L140.6,300.1 L140.9,299.9 L143.8,300.9 L141.5,299.0 L141.5,298.5 L142.7,297.6 L143.5,296.4 L144.5,295.4 L145.3,294.0 L146.5,292.9 L147.3,291.5 L148.1,290.1 L148.9,289.0 L150.6,290.8 L149.6,288.1 L149.9,288.0 L150.9,287.1 L151.7,286.0 L152.0,284.5 Z"/>
<path d="M170.8,301.7 L171.8,302.8 L172.6,304.0 L172.3,305.9 L173.4,304.8 L174.0,304.7 L175.1,305.4 L176.8,305.6 L176.2,307.5 L177.8,305.8 L178.4,306.2 L179.2,308.1 L179.5,306.4 L179.9,306.9 L181.5,307.9 L182.8,308.4 L182.8,309.7 L180.0,310.5 L182.9,310.8 L182.9,311.0 L183.4,312.3 L183.7,313.6 L184.3,314.8 L184.0,316.2 L184.3,317.7 L186.2,316.7 L188.8,316.1 L186.2,315.6 L185.7,315.2 L187.9,314.2 L185.7,314.1 L185.7,313.8 L185.6,312.3 L187.8,311.2 L185.6,311.2 L185.4,310.9 L187.2,309.5 L185.4,309.8 L185.7,309.4 L185.7,307.9 L186.1,306.5 L187.6,306.4 L186.1,305.4 L186.0,305.5 L187.5,304.1 L189.4,303.6 L190.7,302.9 L193.0,304.9 L191.7,302.3 L191.6,302.2 L191.0,305.3 L192.6,302.5 L193.2,302.6 L192.9,305.1 L194.3,302.9 L194.6,302.5 L194.6,304.7 L194.1,306.1 L191.3,305.8 L193.4,306.9 L193.5,307.3 L191.3,306.1 L192.8,308.2 L192.6,308.3 L190.4,308.9 L192.5,309.4 L192.8,309.7 L189.7,311.0 L192.7,310.8 L192.7,311.0 L190.3,312.3 L192.5,312.1 L192.3,312.4 L191.7,313.6 L189.7,313.9 L191.6,314.7 L191.1,315.0 L191.5,316.4 L191.9,317.8 L189.8,317.5 L191.9,318.9 L191.7,319.2 L189.2,318.9 L191.7,320.3 L192.1,320.5 L192.2,321.9 L190.5,323.0 L192.3,323.0 L192.3,323.2 L191.3,325.2 L192.8,324.2 L192.7,324.7 L193.9,325.9 L194.5,327.0 L195.7,328.1 L197.1,328.8 L198.7,329.6 L200.0,330.6 L201.1,331.7 L201.7,333.8 L201.0,332.3 L200.6,333.8 L200.4,333.7 L199.1,333.0 L197.8,330.8 L198.0,332.9 L197.8,332.7 L196.5,332.5 L195.2,333.1 L195.4,331.5 L194.1,333.1 L193.9,333.4 L192.6,333.4 L191.3,332.9 L191.3,330.3 L190.2,332.9 L190.1,332.5 L188.8,332.1 L187.4,332.2 L186.1,331.9 L184.7,332.3 L185.1,330.2 L183.6,332.2 L183.3,332.1 L182.6,329.0 L182.2,332.0 L181.9,332.4 L182.0,331.1 L180.8,332.2 L180.5,332.4 L179.2,331.5 L177.9,331.0 L176.5,330.7 L175.1,330.4 L173.9,327.7 L174.0,330.2 L173.3,330.5 L171.7,330.3 L171.5,327.4 L170.6,330.1 L169.9,330.5 L169.5,328.6 L168.8,330.2 L168.4,329.5 L169.5,326.9 L167.3,329.2 L166.7,329.2 L168.5,328.6 L170.0,327.6 L168.9,326.6 L167.5,326.3 L166.2,325.7 L165.8,323.1 L165.2,325.2 L165.0,324.7 L164.9,323.2 L163.9,324.6 L163.5,324.8 L162.1,324.6 L160.7,324.1 L161.0,321.4 L159.6,323.9 L159.2,324.1 L157.6,324.0 L156.2,323.6 L154.3,322.6 L156.4,322.7 L154.1,321.6 L154.1,321.2 L154.2,319.8 L155.9,317.8 L154.0,318.7 L154.0,318.2 L154.7,316.5 L156.0,316.9 L155.2,315.5 L155.8,314.7 L157.1,315.1 L156.4,317.8 L158.2,315.1 L158.5,315.4 L159.8,315.4 L161.2,315.4 L162.5,315.0 L163.3,312.4 L161.5,314.6 L160.9,314.8 L159.6,314.0 L158.4,313.2 L157.2,312.2 L156.1,311.1 L154.9,309.9 L155.7,308.9 L156.5,307.8 L157.7,307.0 L158.3,305.8 L159.6,307.7 L159.4,305.5 L159.7,305.7 L161.0,305.7 L162.1,304.9 L163.4,304.6 L165.0,305.8 L164.5,304.3 L164.6,303.9 L166.9,306.3 L165.6,303.5 L166.0,303.8 L166.2,305.3 L167.0,303.5 L167.0,302.8 L168.5,303.8 L168.1,302.5 L168.2,302.3 L169.9,303.3 L169.3,302.0 L169.6,302.2 L170.5,303.7 L170.6,301.8 L170.8,301.7 Z"/>
<path d="M161.0,273.0 L162.3,272.3 L163.9,272.0 L164.7,273.5 L164.8,271.6 L165.1,271.4 L166.5,270.9 L167.9,270.5 L168.3,272.0 L168.9,270.1 L169.1,269.7 L170.2,272.2 L170.1,269.3 L170.2,268.8 L171.7,268.5 L173.8,270.2 L172.7,268.1 L172.9,267.9 L173.4,269.3 L173.9,267.4 L174.2,267.2 L175.6,266.5 L176.8,266.2 L178.2,266.8 L179.0,268.0 L177.7,267.6 L178.7,269.1 L178.7,269.3 L176.4,269.9 L178.4,270.4 L178.0,270.6 L178.2,271.9 L179.1,273.0 L178.0,273.7 L179.6,273.9 L179.8,274.1 L180.5,275.2 L180.7,276.7 L181.2,277.8 L182.1,278.9 L183.4,279.6 L184.6,281.0 L183.9,282.4 L182.4,282.6 L183.9,283.5 L183.9,283.8 L181.5,283.2 L183.9,284.9 L184.0,285.2 L183.9,286.6 L184.2,288.1 L183.4,289.7 L182.1,291.3 L180.1,290.1 L181.1,291.7 L180.9,291.8 L179.5,292.1 L177.5,289.6 L178.5,292.5 L178.4,292.8 L176.9,291.8 L177.3,293.2 L176.7,293.3 L175.6,292.4 L177.6,291.1 L174.9,291.6 L174.6,291.4 L173.7,290.3 L172.9,288.9 L172.1,287.4 L171.3,286.0 L170.1,284.9 L169.6,283.7 L168.9,282.5 L168.5,281.2 L171.2,279.5 L168.1,280.2 L167.9,280.1 L168.0,278.4 L167.0,279.4 L166.7,278.9 L167.3,277.1 L165.9,278.2 L165.4,277.9 L164.2,276.8 L165.2,274.9 L163.5,276.0 L162.9,276.1 L163.9,274.9 L162.1,275.3 L161.6,275.2 L161.0,273.0 Z"/>
<path d="M183.0,263.0 L184.2,261.8 L185.4,260.6 L186.9,259.2 L188.6,259.6 L190.4,260.0 L190.7,261.9 L191.5,259.9 L192.0,259.5 L190.4,259.8 L192.3,260.6 L192.2,261.3 L193.1,263.0 L192.4,264.2 L190.2,263.9 L191.9,265.2 L192.2,265.6 L191.6,266.8 L190.4,267.7 L190.0,269.0 L188.2,268.8 L186.5,268.9 L185.3,267.7 L185.4,269.1 L185.9,269.8 L185.4,268.5 L187.5,268.3 L185.1,267.4 L184.4,267.3 L185.6,266.5 L184.1,266.3 L184.4,265.9 L183.6,264.5 L183.0,263.0 Z"/>
<path d="M187.0,277.0 L187.9,276.1 L188.9,275.2 L189.9,274.5 L188.0,276.5 L190.1,275.6 L190.3,275.8 L190.8,277.0 L191.1,278.3 L190.6,279.7 L187.7,279.8 L190.8,280.8 L190.9,281.2 L190.1,283.3 L191.9,281.7 L192.4,281.6 L192.4,283.7 L193.3,282.1 L193.5,282.6 L194.9,283.0 L194.9,284.5 L193.6,284.6 L195.1,285.5 L195.1,285.8 L195.7,286.8 L194.0,286.5 L195.0,287.6 L194.8,288.2 L192.8,286.6 L194.2,289.1 L194.3,289.9 L193.0,291.2 L191.3,291.2 L189.7,291.1 L187.9,291.1 L188.4,289.4 L187.2,290.3 L186.9,290.1 L186.0,289.0 L184.9,288.0 L185.3,286.3 L185.9,284.7 L186.5,283.1 L188.0,282.2 L186.6,282.0 L186.2,281.5 L188.3,282.4 L186.3,280.4 L186.1,279.9 L186.9,278.5 L187.0,277.0 Z"/>
<path d="M200.7,256.8 L202.2,256.9 L203.5,256.3 L204.7,256.2 L206.1,257.3 L204.5,258.5 L206.7,258.2 L207.2,258.7 L208.2,260.2 L208.0,261.8 L207.9,263.3 L205.2,263.4 L208.2,264.4 L208.8,264.6 L209.1,266.0 L208.4,267.4 L207.1,268.3 L206.3,269.6 L207.7,266.9 L205.4,269.0 L205.2,268.1 L207.2,266.2 L204.3,267.5 L204.1,267.1 L205.1,265.1 L203.6,266.1 L203.4,265.7 L202.9,264.2 L202.1,262.9 L200.9,261.3 L200.6,259.7 L200.6,258.3 L203.5,257.6 L200.8,257.2 L200.7,256.8 Z"/>
<path d="M211.3,261.8 L213.0,261.4 L215.1,260.9 L215.7,262.2 L216.4,263.5 L215.0,264.5 L216.9,264.4 L217.2,264.6 L217.6,266.0 L217.4,267.7 L215.8,268.1 L217.6,268.8 L217.8,269.4 L215.3,269.3 L217.9,270.5 L218.4,270.4 L217.0,268.8 L217.3,270.4 L216.6,270.2 L216.2,267.5 L215.5,270.2 L215.3,270.6 L214.4,269.4 L213.1,268.5 L214.9,267.6 L212.4,267.6 L211.8,267.4 L211.8,266.0 L213.4,265.6 L211.7,264.9 L211.6,264.6 L211.4,263.2 L214.0,262.6 L211.3,262.1 L211.3,261.8 Z"/>
<path d="M196.8,269.0 L198.4,269.5 L198.7,271.0 L198.5,272.6 L197.1,273.6 L198.6,273.7 L199.3,273.9 L197.1,273.5 L198.8,272.5 L197.0,272.4 L197.0,272.0 L198.3,271.0 L197.0,270.9 L197.0,270.5 L196.8,269.0 Z"/>
<path d="M199.3,278.8 L200.8,278.8 L202.3,278.7 L202.4,281.0 L203.3,278.4 L203.7,278.4 L204.9,277.4 L206.2,278.2 L205.4,279.8 L207.2,278.5 L207.7,278.3 L207.0,279.9 L208.7,278.6 L209.2,278.4 L210.5,278.9 L211.2,280.2 L210.0,282.6 L211.7,281.2 L212.3,281.4 L210.5,283.5 L212.8,282.4 L212.7,283.0 L212.1,284.7 L213.2,284.0 L213.2,284.4 L213.2,285.9 L211.9,285.9 L212.9,286.9 L213.0,287.3 L210.5,287.0 L212.7,288.4 L212.6,288.7 L210.1,288.5 L212.3,289.8 L212.0,290.3 L211.9,287.4 L211.0,290.6 L210.6,290.4 L209.1,290.7 L207.8,291.5 L206.2,291.6 L205.1,290.4 L203.4,290.2 L201.8,289.9 L200.2,288.9 L200.3,287.2 L199.9,285.7 L201.6,283.5 L199.5,284.7 L199.2,284.4 L198.2,282.9 L198.2,281.5 L199.6,281.5 L198.4,280.4 L198.5,280.1 L199.9,279.5 L198.7,279.0 L199.3,278.8 Z"/>
<path d="M214.8,277.3 L216.2,277.0 L217.6,276.6 L217.9,279.3 L218.7,276.4 L219.1,276.3 L220.7,275.9 L219.0,276.9 L221.1,276.9 L221.6,277.2 L222.1,278.6 L221.0,278.9 L222.5,279.6 L222.2,280.2 L222.6,281.6 L220.7,282.3 L222.7,282.7 L223.1,283.0 L223.2,284.4 L220.7,286.2 L223.3,285.5 L222.8,285.9 L223.0,287.3 L223.2,288.7 L222.1,288.1 L222.7,289.6 L222.8,290.2 L222.3,291.7 L221.1,292.9 L220.6,294.1 L219.2,293.5 L220.1,291.6 L218.2,293.2 L217.7,293.5 L216.6,292.9 L215.9,291.6 L215.4,290.2 L214.8,288.8 L216.1,288.2 L214.5,287.7 L214.9,287.2 L214.3,285.9 L214.6,284.5 L217.1,284.3 L214.7,283.4 L214.7,283.1 L216.3,282.5 L214.8,282.0 L215.1,281.7 L215.0,280.2 L214.6,278.7 L217.3,279.2 L214.7,277.6 L214.8,277.3 Z"/>
<path d="M223.8,270.5 L225.2,270.7 L226.1,273.9 L226.2,270.9 L226.9,270.9 L227.3,272.3 L227.3,274.3 L225.8,274.4 L224.4,274.0 L224.6,272.2 L223.8,270.5 Z"/>
<path d="M196.5,287.5 L198.3,287.7 L198.8,290.0 L196.5,289.8 L196.5,287.5 Z"/>
<path d="M209.4,250.6 L210.5,250.8 L207.5,252.3 L210.5,251.9 L211.1,252.6 L210.0,249.8 L210.0,252.4 L210.0,252.8 L209.4,250.6 Z"/>
<path d="M231.8,224.9 L233.1,224.7 L234.2,223.8 L235.5,223.5 L237.8,225.8 L236.5,223.1 L236.6,222.8 L237.9,222.4 L238.5,224.8 L238.9,222.0 L239.1,221.9 L240.3,221.5 L241.7,220.9 L243.1,220.7 L243.8,223.7 L244.2,220.5 L244.5,220.1 L245.9,219.9 L246.8,221.3 L247.0,219.7 L247.6,219.4 L249.2,220.1 L250.2,223.1 L250.2,220.4 L250.9,220.4 L253.0,221.3 L252.9,223.0 L253.1,224.6 L253.2,226.3 L250.4,227.1 L253.1,227.4 L253.5,227.8 L252.8,229.1 L252.7,230.6 L252.8,232.0 L252.7,233.4 L251.2,234.4 L252.6,234.5 L252.3,234.8 L251.9,236.2 L250.5,235.9 L251.8,237.3 L252.0,237.6 L249.7,237.7 L251.9,238.7 L251.9,239.1 L252.0,240.5 L251.8,241.9 L251.6,243.3 L250.8,244.7 L248.0,244.9 L250.7,245.8 L250.5,246.1 L250.4,247.5 L250.6,249.0 L247.8,249.7 L250.4,250.1 L250.7,250.4 L250.3,251.8 L248.1,252.9 L250.2,252.9 L249.7,253.2 L246.7,253.1 L249.6,254.3 L250.1,254.7 L249.4,256.0 L249.8,257.5 L249.8,259.0 L247.4,258.7 L249.6,260.0 L249.8,260.4 L249.0,261.8 L249.2,263.2 L246.2,263.9 L249.1,264.3 L249.3,264.4 L249.8,265.8 L249.9,267.4 L248.3,269.0 L250.3,268.4 L250.1,268.7 L248.5,268.0 L249.7,269.8 L249.9,270.3 L249.3,271.7 L247.6,271.1 L249.0,272.7 L248.7,272.7 L247.3,273.2 L246.0,271.3 L246.3,273.5 L246.0,273.7 L245.8,271.9 L244.9,273.9 L244.5,273.8 L243.2,274.7 L241.9,273.6 L242.2,275.0 L241.8,274.9 L240.4,275.6 L238.9,275.6 L237.4,275.6 L235.9,275.7 L234.5,275.8 L234.7,273.1 L233.4,276.1 L233.2,276.9 L231.7,276.9 L231.6,274.4 L230.7,277.1 L230.3,277.0 L228.1,274.5 L229.2,277.2 L229.0,277.8 L227.6,278.0 L227.1,276.0 L226.5,278.2 L225.9,278.2 L225.5,276.3 L224.7,274.4 L227.7,275.8 L225.5,273.6 L226.0,273.8 L226.8,272.8 L229.3,273.3 L227.6,272.0 L227.7,271.8 L228.9,271.1 L230.0,272.1 L229.6,270.3 L229.4,269.7 L231.4,270.8 L230.2,268.9 L230.7,268.5 L232.4,266.0 L229.9,267.7 L229.4,267.9 L230.4,264.9 L228.6,267.2 L228.4,267.0 L229.9,265.5 L227.7,266.2 L227.7,265.9 L226.2,265.1 L224.9,263.8 L223.2,263.4 L221.7,262.5 L220.1,261.8 L220.6,260.3 L219.2,261.2 L218.6,260.6 L217.6,259.3 L216.5,258.0 L216.2,256.1 L217.6,254.5 L216.0,255.0 L216.3,254.6 L215.6,253.3 L215.1,251.9 L214.9,250.5 L216.1,248.9 L214.6,249.4 L214.9,249.0 L217.1,249.3 L215.2,248.0 L214.9,247.5 L215.5,246.1 L216.3,244.8 L216.5,243.5 L217.2,242.2 L218.5,244.0 L217.9,241.4 L218.0,241.1 L218.7,239.8 L219.5,238.7 L220.3,237.5 L220.9,236.4 L221.9,235.5 L222.4,234.2 L225.2,235.6 L223.1,233.4 L223.3,233.2 L224.2,232.3 L225.2,231.5 L226.3,232.4 L225.9,230.6 L226.4,230.8 L228.2,233.3 L227.2,230.0 L227.3,229.8 L228.2,228.8 L230.0,229.5 L228.9,228.0 L229.3,228.1 L231.3,229.8 L230.1,227.3 L229.9,226.7 L230.9,225.8 L231.8,224.9 Z"/>
<path d="M224.8,280.2 L226.2,279.6 L228.3,281.2 L227.2,279.2 L227.7,279.4 L228.9,278.4 L230.3,278.1 L231.9,278.1 L233.2,277.7 L234.7,277.7 L236.0,276.8 L237.4,276.4 L237.5,278.7 L238.5,276.3 L238.9,276.8 L240.4,276.8 L242.0,279.7 L241.5,276.7 L241.8,276.5 L243.1,277.5 L242.9,276.3 L243.2,276.2 L244.6,276.2 L246.0,275.7 L247.4,275.1 L249.1,274.8 L249.8,276.1 L250.4,277.4 L249.4,278.5 L251.0,278.4 L250.9,278.8 L248.7,278.5 L250.4,279.7 L250.0,280.0 L249.7,281.7 L249.3,282.8 L249.4,284.5 L250.1,285.9 L249.2,287.3 L250.6,286.9 L251.3,287.1 L249.0,289.4 L251.8,288.1 L251.6,288.5 L250.5,289.3 L249.5,290.3 L248.7,291.3 L247.5,292.2 L246.4,290.1 L246.4,292.5 L245.9,292.1 L244.5,292.3 L243.1,292.8 L241.8,293.8 L240.7,291.9 L240.7,294.0 L240.4,294.0 L239.1,292.6 L239.3,294.1 L239.0,293.9 L238.6,292.7 L237.9,294.1 L237.6,294.2 L236.7,291.2 L236.5,294.3 L236.1,293.9 L234.7,294.1 L233.3,294.5 L231.8,294.3 L230.4,294.4 L229.0,293.6 L227.9,293.3 L226.9,292.2 L226.1,290.9 L224.7,290.1 L225.3,288.1 L224.1,289.2 L223.7,288.8 L223.3,287.3 L222.8,286.0 L223.1,284.3 L224.6,284.8 L223.4,283.3 L223.3,282.8 L223.6,281.3 L224.8,280.2 Z"/>
<path d="M199.0,309.0 L200.0,308.0 L200.5,306.5 L203.4,307.3 L201.1,305.6 L201.2,305.3 L201.8,304.0 L202.9,302.7 L204.3,305.5 L203.9,302.3 L204.0,302.0 L205.5,301.9 L206.8,301.6 L208.0,300.6 L209.7,300.9 L210.6,303.3 L210.8,300.9 L211.3,301.1 L212.9,301.0 L211.1,302.2 L213.1,302.1 L213.0,302.5 L213.1,304.1 L213.8,305.5 L214.3,307.0 L214.3,308.4 L214.4,309.8 L214.1,311.1 L213.8,312.4 L213.5,313.7 L213.3,315.2 L212.2,316.2 L210.3,315.6 L211.6,317.2 L211.4,317.5 L208.8,316.5 L210.9,318.4 L211.1,318.9 L210.5,320.5 L209.6,321.6 L207.9,320.0 L208.8,322.3 L208.5,322.5 L206.7,323.2 L206.1,321.6 L208.1,319.6 L205.4,320.8 L205.4,320.2 L203.8,319.4 L205.3,316.8 L203.2,318.5 L203.0,318.0 L204.5,316.0 L202.3,317.1 L202.0,316.7 L204.5,315.4 L201.3,315.8 L201.2,315.2 L199.9,314.0 L202.5,312.5 L199.6,312.9 L199.5,312.4 L199.1,310.7 L199.0,309.0 Z"/>
<path d="M217.0,300.0 L218.5,299.3 L219.9,299.1 L220.8,301.2 L221.0,299.0 L221.4,298.9 L223.0,299.4 L224.1,301.0 L224.1,299.5 L224.4,299.3 L225.3,302.5 L225.5,299.4 L225.8,300.0 L226.0,303.0 L226.9,300.1 L227.2,300.2 L228.6,299.9 L229.9,302.4 L229.7,300.0 L230.5,300.2 L229.7,301.6 L227.8,300.5 L229.3,302.6 L229.3,303.1 L227.1,303.6 L229.0,304.1 L228.8,304.6 L226.4,303.5 L228.5,305.6 L228.3,306.1 L227.9,307.4 L226.9,308.5 L226.7,309.8 L223.8,310.1 L226.3,310.9 L226.0,311.0 L224.9,312.1 L222.6,309.9 L223.9,312.6 L223.4,312.4 L222.1,313.1 L221.3,314.2 L220.8,315.4 L220.4,316.7 L220.1,317.8 L219.9,314.7 L219.0,317.5 L218.5,317.6 L216.4,317.0 L216.7,315.6 L217.2,314.2 L217.1,312.8 L220.2,311.9 L217.1,311.7 L216.9,311.4 L218.4,310.3 L216.9,310.3 L216.6,310.0 L216.5,308.5 L216.9,307.0 L219.5,305.7 L216.9,305.9 L217.2,305.5 L217.1,304.0 L217.1,302.7 L217.5,301.3 L217.0,300.0 Z"/>
<path d="M236.7,302.0 L238.0,301.2 L239.3,300.4 L240.7,299.7 L242.1,299.6 L242.5,301.9 L243.2,299.9 L243.6,299.8 L245.0,300.0 L246.4,300.5 L247.6,301.0 L249.2,302.5 L248.6,300.5 L249.2,300.6 L250.4,299.5 L251.7,298.7 L253.2,297.8 L254.7,298.3 L256.1,298.6 L257.6,298.5 L259.0,298.3 L260.3,298.5 L258.5,301.1 L261.0,299.3 L261.6,299.3 L261.0,301.4 L262.3,300.1 L262.5,300.4 L263.2,301.6 L263.8,303.0 L265.1,303.9 L266.4,304.6 L267.7,305.4 L269.3,305.6 L269.9,308.9 L270.3,306.0 L270.5,306.6 L272.1,306.8 L270.2,308.9 L273.1,307.2 L273.3,307.8 L274.5,308.4 L276.1,308.3 L277.2,309.3 L278.5,309.8 L278.5,311.5 L279.6,310.2 L280.0,310.0 L279.8,311.7 L281.0,310.4 L281.4,310.2 L282.0,312.0 L282.4,310.6 L282.5,311.2 L283.9,311.4 L285.1,312.4 L284.2,314.0 L286.1,312.8 L286.3,313.1 L287.6,313.7 L289.0,313.9 L290.3,314.6 L290.4,316.7 L291.3,315.0 L291.3,315.3 L290.3,317.7 L292.2,315.9 L292.6,315.8 L293.5,316.8 L294.7,317.3 L294.0,319.2 L295.6,318.0 L295.7,318.2 L296.9,318.7 L297.7,319.8 L299.0,320.3 L298.5,323.5 L299.9,320.9 L300.0,321.2 L301.3,321.7 L301.2,324.4 L302.2,322.3 L302.2,322.6 L303.3,323.4 L304.6,323.9 L305.6,324.7 L304.2,326.9 L306.5,325.3 L306.4,325.7 L305.7,327.2 L307.5,326.1 L307.9,325.8 L309.1,326.7 L308.9,328.4 L310.2,327.1 L310.6,327.0 L312.0,327.4 L311.1,329.7 L313.0,327.8 L313.2,328.2 L314.8,328.2 L313.4,331.0 L315.8,328.6 L316.0,329.1 L316.3,330.8 L317.1,329.4 L317.3,329.9 L318.7,329.9 L319.9,330.3 L319.7,331.7 L321.0,330.5 L321.2,330.7 L322.5,331.0 L323.8,331.2 L325.1,331.7 L325.5,334.4 L326.1,331.9 L325.7,331.6 L326.8,332.6 L325.3,332.9 L327.2,333.6 L327.1,333.9 L328.0,335.0 L326.1,336.1 L328.4,336.0 L328.3,336.3 L326.1,338.4 L328.7,337.3 L328.6,337.6 L329.3,338.7 L329.1,340.0 L328.2,341.1 L327.6,342.2 L325.1,341.9 L327.2,343.3 L327.4,343.6 L326.8,344.7 L326.5,346.0 L326.8,344.2 L325.4,345.8 L325.2,345.5 L323.9,345.5 L322.5,345.6 L321.5,342.8 L321.4,345.4 L321.3,345.1 L321.5,343.6 L320.2,344.9 L320.1,344.4 L318.7,344.6 L317.4,344.7 L316.0,345.0 L314.6,345.0 L314.7,341.9 L313.5,345.0 L313.3,344.5 L311.8,344.2 L312.1,345.6 L313.0,346.9 L313.2,348.4 L313.6,349.9 L313.7,352.6 L314.5,350.4 L314.6,350.8 L314.1,352.6 L315.5,351.4 L315.7,351.6 L317.1,351.8 L318.4,352.2 L319.6,352.9 L320.8,353.4 L322.0,354.1 L321.7,355.9 L323.0,354.6 L323.2,354.6 L322.8,356.2 L324.2,355.1 L324.2,355.7 L323.5,357.7 L325.2,356.2 L325.2,356.8 L326.6,356.9 L327.7,357.9 L327.4,359.6 L328.7,358.3 L329.0,358.2 L330.3,358.8 L330.9,360.1 L329.5,362.0 L331.4,361.1 L331.1,361.5 L330.1,362.8 L331.6,362.5 L332.1,362.5 L333.1,363.6 L333.4,364.9 L334.2,366.0 L334.9,367.2 L335.3,368.5 L334.5,370.5 L335.8,369.5 L336.2,369.6 L336.2,371.2 L337.0,372.3 L337.5,373.6 L337.9,374.9 L336.1,375.4 L338.4,375.9 L338.8,376.0 L339.4,377.3 L337.9,376.9 L336.4,377.0 L335.0,377.3 L333.5,377.4 L332.2,376.9 L333.9,374.6 L331.3,376.3 L331.1,376.2 L330.1,375.3 L331.0,372.2 L329.2,374.7 L328.7,375.0 L328.6,371.9 L327.8,374.3 L327.8,374.0 L329.4,371.3 L326.9,373.4 L326.9,373.0 L328.2,371.8 L326.0,372.4 L325.4,372.9 L324.2,372.2 L323.2,371.3 L322.1,370.7 L321.0,370.1 L319.6,369.8 L318.3,370.4 L316.9,370.8 L315.5,370.7 L314.2,371.2 L312.7,371.1 L311.3,371.0 L310.1,371.3 L308.5,371.3 L307.1,370.9 L305.6,370.9 L304.0,370.9 L302.2,370.6 L300.8,369.7 L302.5,367.3 L299.9,369.1 L299.9,368.6 L299.1,365.8 L298.8,368.3 L298.7,367.6 L297.4,367.0 L295.6,366.5 L294.7,368.1 L293.6,369.3 L291.9,369.9 L290.6,370.9 L289.6,372.3 L287.9,373.4 L286.2,373.4 L284.5,373.1 L283.7,370.9 L283.4,372.9 L282.5,372.2 L282.2,370.8 L284.3,370.0 L281.8,369.8 L282.2,369.3 L282.0,368.3 L282.7,366.9 L283.8,365.7 L284.0,364.1 L285.5,363.9 L287.0,363.8 L288.9,365.5 L288.1,363.6 L288.5,363.4 L289.2,364.7 L289.6,363.2 L290.1,363.1 L291.0,365.3 L290.9,362.4 L291.3,362.1 L292.5,361.1 L293.8,360.1 L295.2,358.8 L297.9,357.5 L294.4,358.0 L294.1,357.9 L292.9,357.1 L294.8,355.3 L292.1,356.3 L291.9,356.1 L292.3,353.4 L291.1,355.3 L290.9,355.0 L292.4,355.4 L291.2,353.9 L291.7,353.8 L292.2,352.6 L295.1,353.2 L292.5,351.6 L292.8,351.4 L292.8,350.1 L293.4,348.9 L293.8,347.7 L293.8,346.3 L293.9,345.1 L294.4,342.8 L293.2,344.2 L293.0,343.6 L293.7,341.0 L292.3,342.8 L291.6,342.5 L290.8,341.5 L289.7,340.7 L291.2,338.7 L288.9,339.9 L288.5,340.0 L289.7,338.4 L287.8,339.2 L287.7,339.0 L289.4,337.1 L286.9,338.2 L287.0,337.8 L286.1,337.1 L284.8,336.6 L283.5,336.2 L282.2,335.7 L282.8,333.8 L281.2,335.2 L281.2,334.6 L280.0,334.1 L278.5,333.8 L278.2,330.5 L277.6,333.2 L277.4,333.1 L278.2,331.1 L276.4,332.6 L276.6,331.8 L276.4,329.0 L275.7,331.3 L275.3,331.4 L276.1,329.6 L274.3,330.9 L274.1,330.7 L275.6,328.5 L273.2,330.2 L273.0,330.0 L273.5,327.4 L272.1,329.4 L272.0,329.1 L272.9,327.8 L271.0,328.5 L270.6,328.8 L271.7,327.6 L269.7,328.2 L269.6,327.9 L270.0,325.7 L268.6,327.4 L268.3,327.4 L267.0,326.9 L265.9,326.2 L264.6,325.7 L263.4,325.0 L262.5,324.1 L261.6,325.0 L260.8,326.1 L259.7,326.8 L258.8,327.9 L257.6,328.5 L256.0,326.0 L256.9,329.3 L256.8,329.7 L256.9,327.1 L255.8,329.9 L255.4,330.0 L254.0,330.8 L253.1,328.2 L252.9,331.0 L252.6,331.4 L251.0,331.2 L249.5,331.3 L248.0,331.5 L249.2,328.8 L246.9,331.4 L246.6,331.2 L245.2,330.5 L243.6,330.8 L242.2,330.4 L243.0,329.3 L241.3,329.7 L241.2,329.4 L242.8,328.3 L240.3,328.7 L239.8,328.8 L239.0,327.6 L238.1,326.4 L237.0,325.7 L236.6,324.3 L238.3,322.7 L236.2,323.3 L236.1,323.0 L235.0,321.9 L234.2,320.7 L233.7,319.5 L233.5,318.0 L233.4,316.7 L233.6,315.4 L236.0,314.6 L233.6,314.3 L232.9,314.1 L235.9,312.5 L232.9,313.0 L233.2,312.8 L233.4,311.4 L235.9,310.0 L233.4,310.3 L233.2,310.1 L234.4,309.0 L233.2,309.0 L233.4,308.8 L235.8,308.7 L233.4,307.7 L233.4,307.8 L233.7,306.4 L235.3,307.9 L234.3,305.5 L234.3,305.2 L235.2,304.2 L235.9,303.1 L236.7,302.0 Z"/>
<path d="M278.0,339.0 L279.3,338.7 L280.7,341.0 L280.4,338.6 L280.6,338.4 L282.1,338.7 L282.9,340.1 L283.2,341.8 L282.5,343.3 L283.7,342.7 L283.8,342.8 L283.2,344.4 L282.9,346.1 L283.0,348.0 L283.6,345.2 L281.9,347.7 L281.7,347.4 L280.4,347.0 L279.5,346.7 L281.1,344.9 L279.0,345.8 L278.9,345.4 L277.8,344.3 L279.0,342.8 L277.3,343.3 L277.4,343.1 L277.8,341.8 L278.0,340.4 L280.5,340.6 L278.2,339.3 L278.0,339.0 Z"/>
<path d="M293.0,438.0 L294.3,436.9 L296.1,436.8 L295.9,438.5 L297.0,437.5 L297.2,438.1 L295.6,440.2 L298.0,438.8 L298.8,439.0 L298.9,440.3 L298.5,441.7 L297.3,441.8 L298.6,442.8 L298.9,442.9 L296.9,442.5 L298.3,443.8 L297.6,444.2 L296.0,443.6 L297.0,445.1 L297.1,445.7 L295.7,445.0 L294.0,445.0 L293.7,443.3 L296.2,442.6 L293.2,442.3 L293.0,442.1 L295.7,442.5 L293.1,441.0 L292.6,440.7 L292.5,439.3 L294.5,438.7 L292.7,438.2 L293.0,438.0 Z"/>
<path d="M289.5,471.0 L290.5,470.0 L292.0,470.1 L293.3,470.6 L292.5,472.6 L294.3,470.9 L294.6,470.8 L295.5,471.1 L296.5,473.2 L294.9,473.9 L294.7,471.3 L293.8,474.1 L293.0,473.8 L291.4,473.7 L292.0,472.4 L290.4,473.4 L289.5,473.1 L290.4,471.8 L289.2,472.1 L289.5,471.0 Z"/>
<path d="M284.8,413.5 L286.1,413.8 L286.5,415.1 L286.5,416.2 L284.9,416.3 L284.9,414.9 L284.8,413.5 Z"/>
<path d="M266.0,391.0 L267.4,390.4 L268.9,390.1 L269.9,389.1 L271.2,389.5 L272.9,390.1 L272.5,391.5 L270.4,390.6 L272.2,392.6 L271.6,392.7 L270.0,393.0 L271.2,393.7 L271.0,394.0 L269.8,394.8 L268.8,395.8 L268.0,397.0 L266.6,396.5 L265.4,395.5 L265.5,394.0 L265.5,392.5 L266.0,391.0 Z"/>
<path d="M280.5,391.5 L282.7,391.1 L282.8,392.5 L279.9,393.5 L283.1,393.5 L283.1,393.8 L283.3,394.7 L281.5,393.9 L282.8,395.6 L282.8,396.3 L282.6,397.9 L281.2,397.3 L280.2,396.0 L282.5,394.4 L280.2,394.9 L280.0,394.5 L279.9,393.0 L281.2,393.0 L279.9,391.9 L280.5,391.5 Z"/>
<path d="M284.5,379.5 L285.9,379.1 L286.7,378.6 L288.2,379.4 L288.1,382.1 L289.1,379.9 L289.4,379.2 L288.8,380.8 L288.4,382.1 L286.9,382.1 L286.2,382.8 L285.3,381.2 L287.4,380.6 L285.0,380.1 L284.5,379.5 Z"/>
</g>
<g fill="none" stroke="#909090" stroke-width="0.65" stroke-linejoin="round">
<path d="M93.5,295.5 L94.6,296.2 L95.3,297.5 L96.2,298.4 L97.3,299.2 L97.9,300.5 L97.8,301.9 L98.0,303.2 L98.2,304.4 L98.2,305.9 L99.2,306.9 L101.2,307.0 L99.6,307.9 L99.5,308.2"/>
<path d="M99.5,308.2 L98.6,309.2 L97.9,310.4 L97.0,311.3 L96.2,312.3 L95.5,313.6 L94.3,314.7 L93.2,315.7 L92.8,317.3 L92.2,318.7 L91.3,319.1 L91.9,319.8 L91.7,320.2 L91.0,322.1 L92.7,322.5 L94.1,323.3 L95.1,324.7 L95.8,323.9 L96.0,325.3 L96.4,325.5 L96.3,327.0 L95.9,328.5 L95.8,330.1 L95.5,331.7 L94.8,333.3 L94.1,333.9 L95.0,335.2 L95.8,336.8 L95.2,338.0 L94.1,338.8 L93.0,339.6 L91.7,340.4 L91.8,342.0 L93.6,342.0 L91.6,343.1 L91.4,343.5 L93.1,343.7 L91.3,344.6 L91.6,344.9 L91.7,346.5 L92.0,348.1 L93.0,349.5 L92.6,351.0 L91.2,351.3 L92.5,352.1 L92.0,352.5 L92.4,354.0 L94.0,354.5 L92.3,355.1 L92.6,355.5 L91.9,357.0 L92.2,358.5 L92.3,360.0 L93.5,360.2 L92.5,361.1 L92.5,361.5 L92.6,363.0 L92.0,364.5 L92.0,366.0 L91.9,367.6 L91.2,369.0 L91.3,370.5 L89.7,372.0 L91.4,371.6 L92.0,372.0 L91.6,373.5 L91.7,375.1 L92.4,376.4 L92.9,377.9 L94.2,378.4 L93.1,378.9 L92.9,379.4 L94.1,379.5 L93.1,380.4 L93.4,380.8 L93.7,382.3 L93.9,383.6 L94.8,384.6 L95.8,385.5 L96.9,386.2 L97.7,387.3 L98.6,388.4 L99.9,388.8 L100.4,390.2 L102.1,391.3 L100.5,391.3 L100.5,391.6 L100.8,393.1 L101.1,394.5 L101.1,396.0 L100.5,397.5"/>
<path d="M99.5,308.2 L100.9,307.2 L99.9,306.1 L101.9,306.7 L102.6,306.9 L104.0,306.3 L105.5,306.0 L107.0,306.7 L108.7,306.6 L109.2,307.9 L110.4,307.4 L109.8,308.9 L110.0,309.3 L111.5,308.9 L113.0,308.5 L114.5,308.2 L115.2,306.7 L115.6,308.2 L116.0,308.8 L117.5,309.6 L119.0,309.4 L119.4,308.6 L120.1,309.6 L120.5,309.8 L121.8,310.1 L123.2,311.0 L125.5,311.9 L127.1,310.9 L127.5,309.1 L128.4,309.5 L127.8,310.2 L128.0,310.6 L128.9,312.0 L128.8,313.6 L129.6,315.0 L129.8,316.5 L129.9,318.1 L130.0,319.6 L131.0,321.0 L130.6,319.6 L131.6,320.1 L132.1,320.1 L132.9,319.0 L133.5,317.8 L134.8,317.6 L134.1,316.9 L134.0,316.5 L133.4,317.7 L134.3,317.5 L134.8,317.9 L135.0,319.5 L133.4,319.7 L135.4,320.5 L135.5,321.0 L137.1,321.3 L138.6,321.7 L140.4,322.1 L139.9,323.2 L141.2,322.8 L141.0,323.5 L142.3,324.2 L143.0,325.5"/>
<path d="M107.0,313.5 L108.7,313.5 L109.1,311.8 L109.8,313.3 L110.3,312.8 L112.0,312.2 L113.5,312.7 L115.0,313.0 L115.5,314.5 L116.1,313.0 L116.5,313.4 L117.4,312.6 L117.6,313.4 L118.0,312.8 L119.4,313.1 L120.7,312.4 L122.0,312.5"/>
<path d="M143.0,325.5 L144.3,326.2 L145.9,325.6 L145.1,326.9 L145.2,327.3 L146.1,328.5 L147.0,329.6 L148.5,330.8 L149.5,329.7 L149.6,328.6 L150.5,329.3 L150.7,329.3 L152.0,330.1 L151.7,328.8 L152.0,328.9 L151.2,327.5 L153.0,328.4 L153.2,328.4 L153.6,329.8 L154.2,327.9 L154.4,327.4 L154.6,328.7 L155.3,329.8 L155.7,331.2 L156.9,332.0 L157.6,333.1 L158.8,333.8 L160.3,334.0 L161.4,332.5 L161.2,334.5 L161.4,334.9 L163.1,336.0 L164.2,336.3 L162.9,337.0 L163.0,337.3 L161.1,336.9 L162.7,338.3 L161.9,338.4 L161.4,339.6 L162.8,339.8 L161.1,340.7 L160.9,340.4 L159.9,341.4 L158.7,342.0 L157.8,343.2 L156.5,343.8 L155.4,344.1 L156.5,345.0 L157.6,345.7 L158.9,346.0 L160.0,346.2 L161.5,346.1 L162.9,346.3 L164.4,347.0 L166.0,347.0 L167.3,346.2 L168.8,346.2 L170.3,345.8 L172.0,345.3 L172.6,346.5 L173.4,347.7 L174.3,348.8 L175.1,349.9 L174.1,350.4 L175.6,350.8 L175.1,351.4 L176.3,351.6 L175.4,352.5 L175.0,352.8 L175.7,354.0 L176.1,355.3 L176.8,356.6 L176.8,357.9 L177.1,359.2 L177.0,360.6 L178.4,360.4 L177.2,361.7 L177.3,361.9 L176.8,360.6 L177.4,359.3 L176.8,358.0 L177.0,356.7 L176.4,355.4 L176.2,354.2 L176.1,352.8 L175.9,351.6 L175.9,349.7 L177.3,348.8 L177.3,347.7 L178.1,348.0 L178.4,347.5 L179.9,347.8 L179.2,346.8 L179.9,346.5 L181.7,346.7 L183.5,346.7 L182.6,345.0 L181.5,344.7 L182.2,344.0 L182.3,343.4 L183.3,342.2 L184.5,341.4 L186.1,340.8 L187.7,341.8 L189.0,343.0 L189.5,344.4 L190.8,345.1 L189.6,345.4 L189.9,345.7 L189.3,346.7 L190.1,346.8 L190.1,347.1 L190.3,348.5 L188.6,348.4 L190.4,349.6 L189.9,350.1 L190.9,351.2 L192.0,352.2 L193.2,353.1 L194.6,353.5 L196.3,352.6 L195.5,354.1 L196.0,354.1 L197.5,354.0 L199.1,353.8 L200.5,353.1 L202.0,353.2 L201.9,351.9 L203.1,353.0 L203.5,353.0 L205.0,352.4 L206.5,352.0 L206.2,350.0 L207.5,351.8 L207.8,351.9 L209.1,350.6 L210.2,351.1 L209.7,349.6 L210.2,348.9 L209.5,347.5 L209.2,345.7 L208.3,346.1 L208.3,345.1 L207.7,344.7 L206.1,343.7 L204.3,343.4 L205.7,344.3 L205.2,342.7 L205.3,341.9 L206.9,341.3 L208.3,340.2 L209.5,339.1 L210.5,337.7 L209.7,336.6 L211.2,336.9 L210.9,336.2 L210.0,337.7 L211.9,336.7 L212.2,337.0 L213.6,337.5 L214.8,338.0 L215.1,336.7 L216.8,336.0 L215.3,335.6 L215.0,335.3 L215.1,333.9 L215.4,332.6 L216.4,332.6 L215.5,331.5 L215.3,331.3 L215.4,330.1 L215.7,328.5 L215.2,327.1 L214.7,325.6 L214.3,323.6 L214.8,322.3 L216.2,321.3 L217.1,320.1 L217.0,318.5 L217.8,319.3 L218.0,318.5 L219.3,317.7 L220.9,318.6 L222.0,320.0 L222.9,321.1 L224.3,320.8 L223.4,322.0 L223.0,322.5 L223.6,323.7 L223.9,325.1 L223.1,326.1 L224.4,326.1 L224.3,326.2 L224.8,327.7 L225.8,329.1 L226.8,330.4 L227.4,331.8 L228.0,333.1 L228.5,334.6 L229.1,335.9 L229.9,337.1 L230.7,338.3 L231.8,339.2 L233.2,339.9 L233.9,341.2 L233.4,342.1 L234.4,342.2 L234.7,342.5 L234.9,344.1 L236.0,345.5 L237.3,347.1 L237.6,345.5 L238.4,344.1 L239.1,342.7 L240.1,342.4 L239.5,341.7 L238.4,341.4 L240.0,342.5 L241.0,344.0 L241.6,345.2 L241.9,346.6 L242.5,347.8 L243.2,348.9 L243.4,350.3 L242.8,351.6 L243.8,351.3 L244.1,351.5 L244.4,352.8 L245.0,354.2 L247.5,354.2 L247.7,352.8 L248.5,351.7 L248.5,350.3 L247.9,349.8 L248.9,349.2 L249.5,349.1 L250.9,348.6 L249.6,348.0 L249.5,347.6 L250.9,346.9 L249.7,346.6 L249.3,346.2 L249.2,344.7 L249.9,343.4 L249.7,342.1 L250.6,341.8 L249.4,341.0 L248.9,340.7 L247.6,340.5 L248.5,339.7 L248.4,339.2 L247.7,337.8 L246.2,338.4 L247.4,336.7 L248.0,336.0 L247.4,334.7 L246.7,333.5 L245.0,332.8 L246.4,332.4 L246.8,332.3 L245.2,331.5 L243.9,330.2 L242.7,329.6 L242.2,330.9 L241.7,329.2 L241.4,329.3 L240.1,328.9 L239.0,328.0 L238.8,326.4 L238.1,327.4 L237.3,327.4 L235.9,326.0 L235.5,324.6 L234.6,323.4 L234.3,321.9 L235.7,321.4 L233.8,320.9 L233.0,320.0"/>
<path d="M175.0,341.0 L176.6,340.3 L178.2,339.8 L179.9,339.9 L181.1,338.9 L182.3,338.0 L184.4,337.7 L183.1,338.8 L185.0,338.7 L185.3,339.3 L186.0,341.0"/>
<path d="M257.2,335.2 L257.8,336.6 L259.3,336.9 L258.3,337.6 L258.8,337.9 L259.1,339.5 L259.5,341.0 L259.6,342.5 L259.8,343.9 L261.0,345.0 L260.4,346.4 L261.5,346.0 L261.7,346.3 L262.1,347.8 L262.8,349.1 L263.7,350.3 L263.3,351.6 L264.2,351.3 L264.6,351.5 L265.6,353.2 L264.4,354.2 L263.8,355.4 L263.8,356.9 L263.2,358.2 L261.9,358.9 L260.8,359.8 L260.2,360.9 L261.2,361.3 L260.5,362.0 L260.6,362.3 L258.8,363.1 L260.9,363.3 L261.2,363.5 L261.0,365.0 L259.9,365.9 L260.9,366.8 L259.1,366.6 L259.2,367.2 L257.6,366.7 L258.4,368.0 L258.0,368.0 L258.9,369.1 L257.5,370.0 L259.7,369.9 L260.2,369.8 L260.8,371.2 L261.8,372.5 L263.3,373.0 L264.8,373.7 L266.2,374.3 L267.7,374.2 L268.8,375.3 L269.0,376.8 L269.9,378.4 L271.7,378.3 L273.3,379.1 L274.9,379.0 L273.9,380.7 L275.4,380.0 L275.8,380.8 L273.9,379.8 L274.9,381.4 L274.6,382.1 L273.0,383.2 L271.7,383.4 L270.3,383.7 L269.5,382.2 L269.2,383.7 L268.5,383.5 L267.4,382.6 L267.8,381.6 L266.6,381.8 L266.8,381.7 L265.2,381.4 L264.7,380.2 L264.5,381.5 L263.6,382.7 L262.6,383.0 L263.4,383.8 L262.8,383.8 L261.6,385.1 L260.9,386.6 L260.2,388.4 L258.4,388.8 L258.6,390.0 L257.5,389.4 L257.1,390.0 L256.8,388.4 L256.2,386.5 L254.7,386.0 L252.8,385.6 L251.7,387.0 L251.7,385.7 L251.0,384.3 L252.7,384.6 L251.0,383.2 L250.7,382.9 L251.6,381.6 L252.3,380.3 L253.0,379.0 L252.5,377.7 L252.2,376.4 L251.5,375.0 L251.4,373.4 L251.7,371.7 L251.5,370.0 L251.4,368.7 L250.9,367.5 L250.9,366.1 L250.4,364.9 L249.3,363.6 L250.6,362.1 L249.0,362.5 L248.9,361.6 L250.3,361.5 L251.7,361.6 L253.2,361.0 L253.1,359.6 L253.9,358.4 L253.9,357.2 L255.1,356.5 L254.9,357.6 L255.4,357.5 L256.3,357.0 L256.4,358.0 L256.6,358.4 L258.0,359.0 L259.3,359.7 L260.0,361.0"/>
<path d="M222.5,421.2 L222.6,419.9 L222.4,418.5 L222.2,417.1 L223.1,416.9 L222.3,416.0 L222.8,415.7 L223.1,414.4 L223.5,413.0 L223.5,411.5 L223.5,410.0 L225.1,409.4 L223.7,408.9 L223.7,408.4 L224.4,407.1 L225.1,406.0 L223.7,404.8 L225.8,405.1 L225.7,405.0 L225.5,403.6 L226.3,402.3 L226.0,400.9 L226.6,399.7 L226.6,398.3 L227.0,397.0 L228.0,395.7 L229.0,394.3 L230.1,393.2 L231.4,392.7 L232.2,391.5 L233.5,392.9 L233.2,390.9 L233.5,391.0 L234.6,390.1 L235.8,389.6 L236.9,388.9 L238.7,388.8 L237.5,388.0 L237.9,387.6 L237.3,386.9 L238.5,386.7 L239.0,386.4 L240.0,385.1 L241.4,384.9 L242.6,384.0 L244.0,384.0 L244.7,382.5 L246.1,381.6 L247.4,380.6 L247.9,379.0 L248.6,377.4 L248.9,375.7 L248.9,374.0 L249.2,372.3 L250.0,370.7 L249.2,370.4 L250.2,369.7 L249.8,369.0 L249.5,367.4 L249.2,365.7 L249.0,364.0 L247.7,363.8 L248.5,363.0 L248.4,362.6 L246.4,362.7 L247.9,361.7 L248.1,361.1 L246.9,360.0 L246.7,358.1 L244.9,358.4 L246.6,357.0 L246.7,356.2"/>
<path d="M226.0,385.0 L227.4,385.5 L228.2,385.0 L228.4,386.0 L228.9,385.9 L229.9,387.2 L231.2,387.9 L232.8,388.1 L233.9,389.2 L234.7,388.6 L234.9,389.7 L235.2,390.0 L236.7,390.2 L238.0,391.0"/>
<path d="M238.0,368.5 L239.3,369.4 L240.4,370.5 L241.9,371.3 L243.3,372.1 L243.0,373.8 L244.3,372.4 L245.0,371.9 L246.5,371.1 L246.1,372.3 L246.4,372.9 L247.2,371.8 L247.4,373.2 L248.0,373.0"/>
<path d="M215.0,338.0 L217.0,338.8 L218.7,339.1 L220.4,339.4 L221.8,338.2 L221.5,339.6 L222.0,339.3 L223.5,339.9 L225.5,339.9 L225.8,341.2 L226.2,342.5 L226.3,344.3 L225.1,345.1 L224.1,345.8 L225.5,346.4 L226.1,347.5 L226.6,346.8 L227.0,347.0 L227.8,348.2 L226.4,349.4 L228.5,349.0 L229.0,349.1 L227.1,349.8 L225.8,349.1 L224.5,348.3 L222.8,347.7 L221.4,348.8 L221.9,350.2 L220.5,349.4 L219.5,349.7 L218.9,351.5 L217.5,351.5 L218.3,352.4 L217.9,353.0 L217.9,354.4 L216.6,354.1 L217.7,355.5 L217.9,355.8 L217.0,357.0 L218.1,358.2 L216.6,357.9 L214.6,357.6 L216.3,356.8 L216.4,356.2 L216.2,354.5 L215.7,352.3 L214.5,351.5 L213.2,350.8 L212.3,349.5 L211.6,351.2 L211.3,349.0 L210.0,349.0"/>
<path d="M194.0,335.0 L195.6,335.2 L197.1,335.6 L198.5,335.8 L199.8,336.0 L201.0,337.0 L199.9,336.6 L200.2,337.8 L199.8,337.8 L198.8,337.6 L199.0,338.5 L199.1,339.1 L197.5,339.4 L197.6,341.4 L196.5,339.8 L196.4,340.5 L195.0,341.0"/>
<path d="M193.0,320.0 L193.0,321.4 L191.5,321.1 L192.7,322.5 L192.8,322.8 L192.6,323.6 L193.6,324.9 L194.5,326.3 L195.5,327.3 L196.9,328.3 L198.1,329.4 L199.2,330.8 L200.0,332.0 L201.9,331.7 L200.8,332.7 L201.2,332.8 L202.0,334.0"/>
<path d="M220.5,237.7 L222.1,238.1 L223.6,238.5 L224.9,239.7 L225.7,238.8 L226.0,240.0 L226.2,240.4 L227.7,240.1 L228.8,240.2 L228.9,238.0 L229.8,239.7 L230.2,239.4 L231.0,240.8 L231.1,238.9 L231.7,239.0 L233.0,238.0 L234.4,237.2 L236.0,236.9 L236.3,235.6 L237.1,236.5 L237.5,236.3 L238.8,237.1 L239.8,238.2 L240.7,239.5 L241.8,240.5"/>
<path d="M230.4,245.5 L232.1,244.6 L233.7,245.9 L233.2,244.2 L234.1,244.3 L235.8,243.8 L237.4,243.4 L238.2,244.9 L239.4,246.1 L240.3,247.6"/>
<path d="M227.6,253.3 L229.4,254.0 L231.1,254.9 L232.3,255.7 L233.7,256.3 L235.0,257.3 L235.9,256.6 L235.6,258.2 L235.8,258.8 L236.9,260.2 L237.9,259.8 L237.5,261.1 L237.5,261.8"/>
<path d="M229.0,263.2 L230.6,264.3 L232.3,264.9 L234.1,265.5 L235.7,266.3 L237.1,266.8 L238.3,265.6 L237.9,267.5 L237.9,268.0 L238.8,267.3 L238.7,268.7 L239.0,268.8"/>
<path d="M244.6,251.0 L245.6,252.2 L246.4,253.4 L248.7,252.1 L247.8,253.8 L246.9,255.1 L245.0,256.0"/>
<path d="M226.0,281.0 L227.4,280.7 L227.7,278.7 L228.4,280.3 L228.6,279.9 L230.0,279.7 L231.7,279.6 L233.3,279.2 L235.0,279.2 L236.7,279.0 L238.4,278.9 L239.6,280.0 L239.5,278.8 L240.0,278.6 L241.5,278.3 L242.2,277.3 L242.6,278.2 L243.0,278.1 L244.5,278.4 L244.8,277.2 L245.6,278.3 L246.0,278.0"/>
<path d="M300.0,327.0 L301.0,328.1 L302.3,328.8 L303.3,329.9 L304.7,330.3 L306.2,330.7 L307.1,331.8 L308.2,332.6 L309.3,333.4 L310.7,333.7 L310.9,335.1 L311.7,334.2 L312.1,333.8 L311.7,335.1 L313.1,334.3 L313.4,334.1 L314.7,334.5 L315.7,335.6 L315.2,336.9 L316.7,336.0 L316.9,336.1 L318.0,337.0"/>
<path d="M262.0,306.0 L263.3,306.4 L264.2,304.7 L264.3,306.9 L264.2,307.5 L265.3,308.3 L265.0,309.8 L266.3,308.8 L266.7,308.6 L267.9,309.3 L269.3,309.9 L270.6,310.7 L272.0,311.2 L271.2,312.5 L273.1,311.6 L273.5,311.6 L274.5,310.7 L274.5,312.1 L275.1,311.9 L276.3,312.9 L277.8,313.1 L279.2,313.9 L280.4,314.8 L281.7,314.0 L281.4,315.3 L282.0,315.0"/>
<path d="M253.2,298.3 L253.5,299.7 L253.2,301.3"/>
<path d="M255.3,298.3 L255.5,299.5 L255.1,300.9"/>
<path d="M258.4,298.3 L258.8,300.4 L258.5,301.8"/>
<path d="M260.5,298.3 L260.1,299.1 L260.2,299.9"/>
<path d="M262.1,300.2 L261.0,301.3 L259.9,302.2"/>
<path d="M266.2,304.3 L265.3,305.8 L264.5,307.2"/>
<path d="M269.0,305.5 L268.3,307.2 L268.2,307.6"/>
<path d="M270.9,306.4 L270.6,308.1 L269.0,310.0"/>
<path d="M273.7,307.6 L273.1,309.2 L273.0,309.6"/>
<path d="M275.8,308.5 L275.6,309.2 L275.0,310.4"/>
<path d="M277.7,309.3 L277.2,310.6 L276.3,312.2"/>
<path d="M279.8,310.1 L278.9,312.2 L278.0,313.6"/>
<path d="M282.7,311.3 L282.5,312.6 L281.3,314.6"/>
<path d="M284.9,312.1 L284.1,313.4 L283.7,314.7"/>
<path d="M294.0,316.5 L293.4,317.9 L292.2,319.0"/>
<path d="M296.5,318.4 L295.3,319.4 L295.1,320.7"/>
<path d="M298.9,320.2 L298.2,321.0 L297.0,322.4"/>
<path d="M300.4,321.4 L300.0,322.4 L298.7,323.7"/>
<path d="M302.1,322.6 L301.5,323.1 L300.6,324.1"/>
<path d="M304.3,324.3 L304.0,325.5 L303.1,326.3"/>
<path d="M306.5,325.8 L305.8,327.3 L306.0,328.5"/>
<path d="M308.3,326.4 L307.9,327.8 L307.7,329.1"/>
<path d="M313.6,328.2 L313.4,329.7 L312.7,331.9"/>
<path d="M316.6,329.2 L316.5,330.6 L315.9,331.8"/>
<path d="M319.3,329.9 L319.1,331.8 L319.0,333.3"/>
<path d="M321.7,330.3 L321.3,332.3 L320.6,334.0"/>
<path d="M323.5,330.7 L323.0,332.4 L322.9,334.0"/>
<path d="M326.6,331.5 L325.2,332.1 L323.9,332.0"/>
<path d="M327.7,334.5 L326.5,335.0 L324.8,335.4"/>
<path d="M313.7,349.7 L313.2,350.5 L312.0,351.7"/>
<path d="M315.6,350.9 L314.9,352.2 L314.2,353.2"/>
<path d="M319.4,353.1 L318.8,354.3 L317.7,356.2"/>
<path d="M326.2,356.9 L325.5,357.5 L325.5,358.1"/>
<path d="M328.8,358.2 L328.7,358.8 L328.0,359.7"/>
<path d="M330.6,359.8 L329.8,360.7 L329.1,361.0"/>
<path d="M331.7,361.9 L330.9,362.1 L329.5,362.8"/>
<path d="M332.9,364.2 L331.1,365.2 L330.1,365.7"/>
<path d="M333.9,366.2 L333.1,366.4 L331.8,366.9"/>
<path d="M335.2,368.8 L334.4,369.2 L333.3,369.4"/>
<path d="M336.1,370.7 L335.6,371.1 L334.8,371.3"/>
<path d="M337.6,373.6 L336.8,374.4 L335.1,374.4"/>
<path d="M339.0,376.3 L337.6,376.4 L337.1,377.8"/>
<path d="M231.8,224.9 L231.2,224.5 L230.0,223.2"/>
<path d="M230.6,226.1 L229.6,225.5 L228.9,224.6"/>
<path d="M229.1,227.6 L227.6,226.4 L226.5,225.8"/>
<path d="M227.3,229.5 L226.4,228.8 L225.4,227.1"/>
<path d="M225.5,231.5 L224.6,230.6 L223.4,229.9"/>
<path d="M224.3,233.0 L223.8,232.8 L223.1,232.0"/>
<path d="M222.7,235.0 L222.0,234.2 L221.0,233.9"/>
<path d="M221.5,236.4 L220.5,235.4 L219.6,234.7"/>
<path d="M220.4,237.9 L219.3,237.4 L219.3,236.6"/>
<path d="M218.9,239.9 L217.2,239.1 L216.5,238.0"/>
<path d="M216.3,243.5 L215.0,243.0 L213.5,242.3"/>
<path d="M215.5,246.2 L214.0,245.9 L213.0,245.6"/>
<path d="M215.0,248.1 L213.4,247.5 L212.4,247.0"/>
<path d="M215.0,249.9 L214.2,250.1 L212.9,250.2"/>
<path d="M215.4,251.9 L215.0,251.8 L213.6,252.0"/>
<path d="M215.9,254.2 L215.0,254.6 L213.8,254.3"/>
<path d="M216.4,256.3 L215.0,257.4 L213.4,257.7"/>
<path d="M217.6,258.1 L216.1,259.2 L215.2,259.7"/>
<path d="M218.9,260.0 L217.8,260.4 L216.9,260.8"/>
<path d="M220.5,261.3 L220.1,261.6 L219.9,262.4"/>
<path d="M222.3,262.5 L221.4,263.6 L220.5,265.0"/>
<path d="M350.5,392.5 L350.3,393.3 L349.7,393.3"/>
<path d="M352.5,393.7 L352.1,394.4 L351.7,395.0"/>
<path d="M353.9,394.5 L353.1,395.8 L352.8,396.2"/>
<path d="M355.7,395.6 L355.3,396.1 L354.5,396.9"/>
<path d="M357.1,396.4 L356.8,397.4 L355.9,398.9"/>
<path d="M359.1,397.4 L358.9,397.7 L358.2,398.9"/>
<path d="M360.9,398.2 L360.5,399.0 L360.4,399.0"/>
<path d="M363.1,399.1 L362.5,399.8 L362.3,400.1"/>
<path d="M364.5,399.6 L364.2,400.4 L363.9,401.2"/>
<path d="M366.3,400.8 L365.6,401.5 L365.9,401.1"/>
<path d="M367.4,401.9 L366.3,402.8 L366.4,403.3"/>
<path d="M369.9,404.4 L369.5,404.9 L368.6,405.3"/>
<path d="M374.0,407.8 L373.3,408.2 L372.9,409.3"/>
<path d="M375.3,408.9 L375.3,409.3 L374.8,409.8"/>
<path d="M379.1,411.1 L378.6,411.8 L378.9,412.8"/>
<path d="M385.0,413.5 L384.9,414.0 L385.6,414.6"/>
<path d="M386.7,413.1 L386.8,414.1 L386.8,414.6"/>
<path d="M388.5,412.6 L388.4,413.4 L388.5,413.9"/>
<path d="M390.2,412.2 L390.3,413.5 L390.8,414.2"/>
<path d="M391.6,411.9 L391.6,413.1 L392.1,413.1"/>
<path d="M393.8,411.7 L393.6,413.2 L394.0,414.5"/>
<path d="M397.4,411.8 L396.3,412.4 L395.8,412.7"/>
<path d="M398.7,413.3 L397.8,413.9 L397.4,414.5"/>
<path d="M400.1,415.0 L400.5,415.8 L400.6,417.4"/>
<path d="M402.6,415.0 L402.5,416.0 L403.0,416.8"/>
<path d="M404.1,415.0 L404.3,416.6 L404.1,417.8"/>
<path d="M406.0,415.0 L405.3,416.1 L405.0,416.9"/>
<path d="M407.9,416.3 L407.0,416.9 L406.9,418.3"/>
<path d="M409.4,417.3 L408.7,417.8 L408.2,419.1"/>
<path d="M47.5,365.0 L47.0,362.2 L44.0,359.2 L42.5,357.8 L93.5,295.5"/>
<path d="M143.0,325.5 L137.8,339.7 L146.0,350.2 L151.8,358.4 L157.7,366.5 L164.7,369.5 L171.7,376.7 L193.3,383.3 L194.2,390.0 L191.2,420.0"/>
</g>
</svg>
<div class="grid" style="left:647.1px"></div>
<div class="grid" style="left:801.7px"></div>
<div class="grid" style="left:956.2px"></div>
<div class="bar" style="top:216.20px;width:325.2px"></div>
<div class="lbl" style="top:220.54px">Education</div>
<div class="bar" style="top:243.00px;width:266.8px"></div>
<div class="lbl" style="top:247.34px">Agriculture, natural resourc...</div>
<div class="bar" style="top:269.80px;width:261.2px"></div>
<div class="lbl" style="top:274.14px">Visual and performing arts, ...</div>
<div class="bar" style="top:296.60px;width:258.4px"></div>
<div class="lbl" style="top:300.94px">Total, field of study</div>
<div class="bar" style="top:323.40px;width:257.8px"></div>
<div class="lbl" style="top:327.74px">Physical and life sciences a...</div>
<div class="bar" style="top:350.20px;width:256.8px"></div>
<div class="lbl" style="top:354.54px">Humanities</div>
<div class="bar" style="top:377.00px;width:245.8px"></div>
<div class="lbl" style="top:381.34px">Business, management an...</div>
<div class="bar" style="top:403.80px;width:245.8px"></div>
<div class="lbl" style="top:408.14px">Engineering</div>
<div class="bar" style="top:430.60px;width:240.0px"></div>
<div class="lbl" style="top:434.94px">Mathematics, computer an...</div>
<div class="bar" style="top:457.40px;width:235.4px"></div>
<div class="lbl" style="top:461.74px">Social and behavioural scie...</div>
<div class="bar" style="top:484.20px;width:224.0px"></div>
<div class="lbl" style="top:488.54px">Other health, parks, recreat...</div>
<div class="bar" style="top:511.00px;width:219.8px"></div>
<div class="lbl" style="top:515.34px">Nursing</div>
<div class="bar" style="top:537.80px;width:196.4px"></div>
<div class="lbl" style="top:542.14px">Law</div>
<div class="ax" style="left:588.3px;width:120px;text-align:center;top:571.99px">$0</div>
<div class="ax" style="left:742.3px;width:120px;text-align:center;top:571.99px">$10,000</div>
<div class="ax" style="left:896.3px;width:120px;text-align:center;top:571.99px">$20,000</div>
</div></body></html>
